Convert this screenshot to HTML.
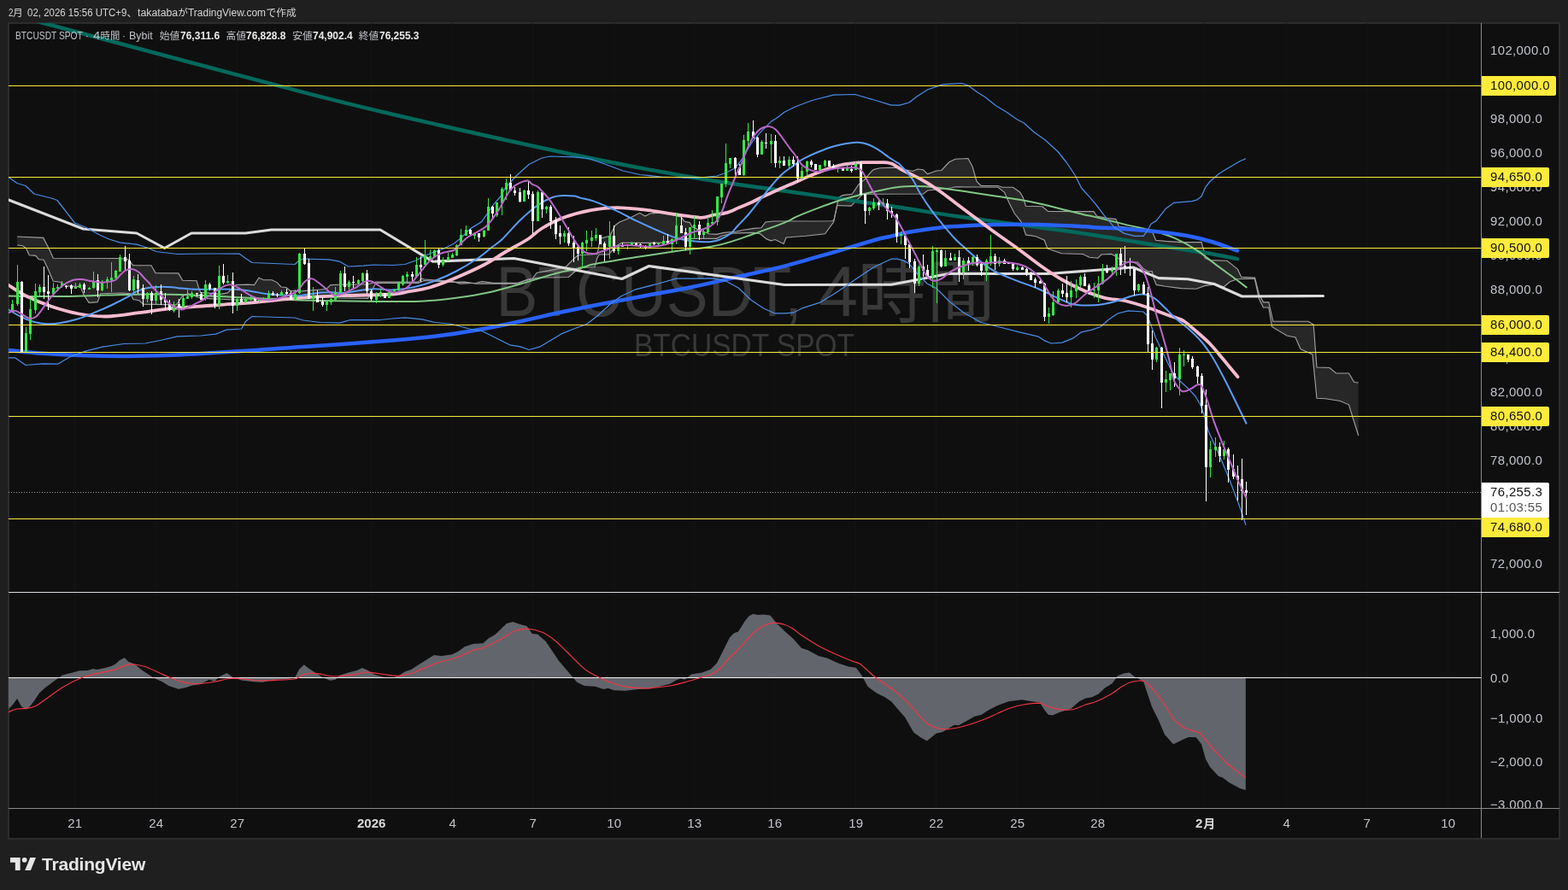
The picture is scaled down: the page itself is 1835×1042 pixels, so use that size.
<!DOCTYPE html>
<html lang="ja"><head><meta charset="utf-8"><title>BTCUSDT SPOT 4h - TradingView</title>
<style>
html,body{margin:0;padding:0;background:#1f1f1f;}
body{width:1835px;height:1042px;position:relative;overflow:hidden;font-family:"Liberation Sans",sans-serif;}
.box{position:absolute;left:9px;top:26px;width:1813px;height:953px;background:#0f0f0f;border:2px solid #2d2d2d;}
.chart{position:absolute;left:0;top:0;will-change:transform;}
.ov{position:absolute;left:0;top:0;width:1835px;height:1042px;will-change:transform;}
.hdr,.lgd{position:absolute;left:0;top:0;}
.sg{position:absolute;display:block;line-height:18px;height:18px;white-space:nowrap;transform-origin:0 50%;overflow:visible;}
.cj{font-family:"Liberation Sans","Noto Sans CJK JP",sans-serif;}
.lg{position:absolute;left:18px;top:34px;font-size:12px;line-height:16px;color:#c4c4c4;white-space:nowrap;}
.lg b{color:#e8e8e8;font-weight:700;}
.lg span{margin-left:8px;}
.pl{position:absolute;left:1744px;height:16px;margin-top:-8px;line-height:16px;font-size:15px;color:#c1c4cc;white-space:nowrap;letter-spacing:0.35px;}
.clip2{position:absolute;left:1734px;top:694px;width:91px;height:252px;overflow:hidden;}
.tag{position:absolute;left:1734px;height:23px;background:#ffeb3b;border-radius:0 2px 2px 0;}
.tag span{position:absolute;left:10px;top:2.8px;line-height:16px;font-size:15px;color:#111;letter-spacing:0.35px;white-space:nowrap;}
.ptag{position:absolute;left:1734px;width:79px;height:41px;background:#ffffff;border-radius:0 2px 0 0;}
.ptag span{position:absolute;left:10px;line-height:16px;font-size:15px;letter-spacing:0.35px;white-space:nowrap;}
.ptag .pv{top:2.6px;color:#111;}
.ptag .pt{top:21.4px;color:#555;}
.tl{position:absolute;top:954.5px;width:60px;text-align:center;font-size:15px;line-height:18px;color:#c1c4cc;white-space:nowrap;}
.tl.b{font-weight:700;color:#d8d8d8;}
.logo{position:absolute;left:12px;top:1003.6px;}
.brand{position:absolute;left:49px;top:999px;font-size:21px;line-height:26px;font-weight:700;color:#e6e6e6;letter-spacing:-0.2px;white-space:nowrap;}
</style></head>
<body>
<div class="box"></div>
<svg class="chart" width="1835" height="1042" viewBox="0 0 1835 1042">
<defs><clipPath id="cm"><rect x="10" y="27" width="1723" height="666"/></clipPath><clipPath id="cs"><rect x="10" y="694" width="1723" height="252"/></clipPath></defs>
<g shape-rendering="crispEdges" stroke="#131313" stroke-width="1">
<line x1="87.5" y1="27" x2="87.5" y2="946"/>
<line x1="182.5" y1="27" x2="182.5" y2="946"/>
<line x1="277.5" y1="27" x2="277.5" y2="946"/>
<line x1="434.5" y1="27" x2="434.5" y2="946"/>
<line x1="529.5" y1="27" x2="529.5" y2="946"/>
<line x1="623.5" y1="27" x2="623.5" y2="946"/>
<line x1="718.5" y1="27" x2="718.5" y2="946"/>
<line x1="812.5" y1="27" x2="812.5" y2="946"/>
<line x1="906.5" y1="27" x2="906.5" y2="946"/>
<line x1="1001.5" y1="27" x2="1001.5" y2="946"/>
<line x1="1095.5" y1="27" x2="1095.5" y2="946"/>
<line x1="1190.5" y1="27" x2="1190.5" y2="946"/>
<line x1="1284.5" y1="27" x2="1284.5" y2="946"/>
<line x1="1409.5" y1="27" x2="1409.5" y2="946"/>
<line x1="1505.5" y1="27" x2="1505.5" y2="946"/>
<line x1="1599.5" y1="27" x2="1599.5" y2="946"/>
<line x1="1694.5" y1="27" x2="1694.5" y2="946"/>
</g>
<g clip-path="url(#cm)">
<g fill="#383838" font-family="Liberation Sans, sans-serif">
<text x="580.5" y="370" font-size="84.3" textLength="358" lengthAdjust="spacingAndGlyphs">BTCUSDT,</text>
<text x="958" y="370" font-size="84.3" textLength="46" lengthAdjust="spacingAndGlyphs">4</text>
<text x="1003.5" y="370.5" font-size="80" font-family="&quot;Liberation Sans&quot;, &quot;Noto Sans CJK JP&quot;, sans-serif" fill="#383838">時</text>
<text x="1084.5" y="370.1" font-size="80" font-family="&quot;Liberation Sans&quot;, &quot;Noto Sans CJK JP&quot;, sans-serif" fill="#383838">間</text>
<text x="742" y="417.3" font-size="36.3" textLength="258" lengthAdjust="spacingAndGlyphs">BTCUSDT SPOT</text>
</g>
<path d="M20 277 L50.7 278.4 L57.9 292.5 L62.3 302.2 L140.3 302.5 L150.3 303.7 L155.5 310.6 L177 310.8 L182 319.6 L208.8 319.9 L213.7 328.2 L230.1 328.7 L232.4 336.5 L234.8 342.4 L258.4 344.3 L266.2 342.9 L271.1 338.5 L276 333.6 L289.8 333.1 L297.6 333.6 L303 325.2 L308.4 327.7 L318.2 327.7 L324.1 330.6 L329 336 L334.9 336.5 L339.8 340.4 L352.6 340.9 L382 338.5 L386.9 333.6 L405 333 L430 333 L436.4 331 L439.8 330.1 L489.6 330.1 L493 326.2 L496.4 327 L530.2 329.6 L538.6 332.1 L557.2 331.3 L564 329.6 L577.5 331.3 L606.2 331.3 L618 327 L623.1 326.2 L628.1 319.4 L641.7 316.9 L661.9 312.7 L672.1 302.5 L676.5 298.8 L699 297.5 L702.5 279.3 L713.7 276.2 L720 263.7 L725 260 L737.4 255 L748.7 249.3 L754.9 253.1 L761.1 250 L775 249 L797.3 254.3 L801.1 259.3 L807.3 260.6 L809.8 265.6 L819.8 269.9 L829.8 273.7 L838.5 274.3 L847.2 272.4 L861 271.2 L869.7 269.3 L882.2 267.4 L890.9 266.8 L895.9 260 L904.7 259 L973 258.8 L976 257.9 L979.7 239.8 L981 231.7 L986 228.6 L997.2 227.3 L1004.7 216.1 L1012.2 209.9 L1018.4 202.4 L1022.2 198.6 L1029.7 196.8 L1048 196.2 L1068 200.5 L1074 198 L1080.5 198.8 L1085.5 203.8 L1095.5 200 L1101.8 199.5 L1110.5 190 L1118 186.2 L1133 185.5 L1138 195 L1143 212.5 L1148 217.5 L1168 217.5 L1173 219.2 L1185.5 219.2 L1193.5 225 L1197.3 231.2 L1200.4 241.2 L1219.7 241.8 L1226.6 247.5 L1280 247.6 L1283.6 253 L1295.6 255.4 L1305.8 256.6 L1309.4 265 L1347.2 269.8 L1349 272.2 L1352.6 281.2 L1364 282.4 L1382 283.6 L1406 283.6 L1409 293.8 L1410.2 302.2 L1415.6 304.6 L1436 305.2 L1441.3 309.4 L1448.5 315.4 L1452.7 324.4 L1468.5 325 L1473.5 345 L1478.5 353.8 L1484.8 353.8 L1489.8 376.2 L1531 376.2 L1537.2 380 L1541 430 L1556 430.5 L1563.5 437 L1578.5 437 L1584.8 447.5 L1589.8 448 L1589.8 510 L1583.5 490 L1578.5 473.8 L1568.5 469.5 L1551 466.8 L1541 466.2 L1536 415 L1522.2 408.8 L1516 395 L1506 393 L1488.5 382.5 L1484.8 360 L1478.5 360 L1473.5 350 L1468.3 326.2 L1447.9 326.8 L1439.5 329.8 L1432.3 335.8 L1421.6 333 L1409.6 334.6 L1400 338.2 L1382 337.6 L1364 335.2 L1353.2 333.4 L1350.2 326.2 L1348.4 317.8 L1343.6 317.8 L1337.6 314.2 L1331.6 307 L1314.8 307 L1305.2 299.8 L1300.4 297.4 L1289 298 L1284.8 302.2 L1274.9 301.2 L1267.4 297.5 L1242.2 296.8 L1226 291.1 L1222.2 281.2 L1212.2 276.8 L1200.4 274.9 L1197.3 264.9 L1194.8 259.3 L1187.3 250 L1181 237.5 L1175.4 225 L1168 219.2 L1118 218.8 L1113 220 L1085.5 223 L1080.5 227 L1009.7 227.3 L1004.7 232.3 L996 241.1 L979.7 240.5 L975.5 260 L965.5 273.8 L943 276.2 L920 278 L917.1 285.5 L907.2 280.5 L902.2 281.8 L897.2 279.9 L889.7 273.7 L882.2 272.4 L857.2 273.1 L844.8 276.2 L838.5 279.3 L811.1 279.3 L794.8 279.9 L782.4 282.4 L774.9 284.3 L727.4 284.3 L720 288.7 L712.5 298 L701.2 298 L698.7 302.4 L696 312.7 L682.2 313.5 L672.1 318.6 L665.3 324.5 L628.1 325.3 L614.6 328.7 L606.2 332.1 L557.2 332.1 L543.7 330.1 L530.2 330.4 L496.4 328.5 L489.6 331.5 L439.8 331.5 L436.4 338 L430.5 349.3 L395 349 L382 346 L360 347 L339.8 349.3 L313.3 350.2 L280 351.2 L258.4 350.2 L234.8 349.3 L220.2 343.7 L213.9 346.2 L206.4 356.8 L167.7 356.1 L162.8 351.8 L155.9 350.5 L152.8 343.7 L144 343 L117.8 343.7 L114.1 353.6 L104.1 354.3 L97.9 344.9 L94.1 335.5 L77.8 334.9 L70.4 330.2 L62.3 329.3 L55.4 313.1 L51.1 304.3 L45.4 303.7 L41.7 299.4 L34.2 298.7 L30.5 290.6 L26.7 287.7 L20 287Z" fill="#ffffff" fill-opacity="0.10" stroke="none"/>
<path d="M20 277 L50.7 278.4 L57.9 292.5 L62.3 302.2 L140.3 302.5 L150.3 303.7 L155.5 310.6 L177 310.8 L182 319.6 L208.8 319.9 L213.7 328.2 L230.1 328.7 L232.4 336.5 L234.8 342.4 L258.4 344.3 L266.2 342.9 L271.1 338.5 L276 333.6 L289.8 333.1 L297.6 333.6 L303 325.2 L308.4 327.7 L318.2 327.7 L324.1 330.6 L329 336 L334.9 336.5 L339.8 340.4 L352.6 340.9 L382 338.5 L386.9 333.6 L405 333 L430 333 L436.4 331 L439.8 330.1 L489.6 330.1 L493 326.2 L496.4 327 L530.2 329.6 L538.6 332.1 L557.2 331.3 L564 329.6 L577.5 331.3 L606.2 331.3 L618 327 L623.1 326.2 L628.1 319.4 L641.7 316.9 L661.9 312.7 L672.1 302.5 L676.5 298.8 L699 297.5 L702.5 279.3 L713.7 276.2 L720 263.7 L725 260 L737.4 255 L748.7 249.3 L754.9 253.1 L761.1 250 L775 249 L797.3 254.3 L801.1 259.3 L807.3 260.6 L809.8 265.6 L819.8 269.9 L829.8 273.7 L838.5 274.3 L847.2 272.4 L861 271.2 L869.7 269.3 L882.2 267.4 L890.9 266.8 L895.9 260 L904.7 259 L973 258.8 L976 257.9 L979.7 239.8 L981 231.7 L986 228.6 L997.2 227.3 L1004.7 216.1 L1012.2 209.9 L1018.4 202.4 L1022.2 198.6 L1029.7 196.8 L1048 196.2 L1068 200.5 L1074 198 L1080.5 198.8 L1085.5 203.8 L1095.5 200 L1101.8 199.5 L1110.5 190 L1118 186.2 L1133 185.5 L1138 195 L1143 212.5 L1148 217.5 L1168 217.5 L1173 219.2 L1185.5 219.2 L1193.5 225 L1197.3 231.2 L1200.4 241.2 L1219.7 241.8 L1226.6 247.5 L1280 247.6 L1283.6 253 L1295.6 255.4 L1305.8 256.6 L1309.4 265 L1347.2 269.8 L1349 272.2 L1352.6 281.2 L1364 282.4 L1382 283.6 L1406 283.6 L1409 293.8 L1410.2 302.2 L1415.6 304.6 L1436 305.2 L1441.3 309.4 L1448.5 315.4 L1452.7 324.4 L1468.5 325 L1473.5 345 L1478.5 353.8 L1484.8 353.8 L1489.8 376.2 L1531 376.2 L1537.2 380 L1541 430 L1556 430.5 L1563.5 437 L1578.5 437 L1584.8 447.5 L1589.8 448" fill="none" stroke="#a0a0a0" stroke-width="1.15"/>
<path d="M20 287 L26.7 287.7 L30.5 290.6 L34.2 298.7 L41.7 299.4 L45.4 303.7 L51.1 304.3 L55.4 313.1 L62.3 329.3 L70.4 330.2 L77.8 334.9 L94.1 335.5 L97.9 344.9 L104.1 354.3 L114.1 353.6 L117.8 343.7 L144 343 L152.8 343.7 L155.9 350.5 L162.8 351.8 L167.7 356.1 L206.4 356.8 L213.9 346.2 L220.2 343.7 L234.8 349.3 L258.4 350.2 L280 351.2 L313.3 350.2 L339.8 349.3 L360 347 L382 346 L395 349 L430.5 349.3 L436.4 338 L439.8 331.5 L489.6 331.5 L496.4 328.5 L530.2 330.4 L543.7 330.1 L557.2 332.1 L606.2 332.1 L614.6 328.7 L628.1 325.3 L665.3 324.5 L672.1 318.6 L682.2 313.5 L696 312.7 L698.7 302.4 L701.2 298 L712.5 298 L720 288.7 L727.4 284.3 L774.9 284.3 L782.4 282.4 L794.8 279.9 L811.1 279.3 L838.5 279.3 L844.8 276.2 L857.2 273.1 L882.2 272.4 L889.7 273.7 L897.2 279.9 L902.2 281.8 L907.2 280.5 L917.1 285.5 L920 278 L943 276.2 L965.5 273.8 L975.5 260 L979.7 240.5 L996 241.1 L1004.7 232.3 L1009.7 227.3 L1080.5 227 L1085.5 223 L1113 220 L1118 218.8 L1168 219.2 L1175.4 225 L1181 237.5 L1187.3 250 L1194.8 259.3 L1197.3 264.9 L1200.4 274.9 L1212.2 276.8 L1222.2 281.2 L1226 291.1 L1242.2 296.8 L1267.4 297.5 L1274.9 301.2 L1284.8 302.2 L1289 298 L1300.4 297.4 L1305.2 299.8 L1314.8 307 L1331.6 307 L1337.6 314.2 L1343.6 317.8 L1348.4 317.8 L1350.2 326.2 L1353.2 333.4 L1364 335.2 L1382 337.6 L1400 338.2 L1409.6 334.6 L1421.6 333 L1432.3 335.8 L1439.5 329.8 L1447.9 326.8 L1468.3 326.2 L1473.5 350 L1478.5 360 L1484.8 360 L1488.5 382.5 L1506 393 L1516 395 L1522.2 408.8 L1536 415 L1541 466.2 L1551 466.8 L1568.5 469.5 L1578.5 473.8 L1583.5 490 L1589.8 510" fill="none" stroke="#a0a0a0" stroke-width="1.15"/>
<path d="M10 16.2 C16.8 18 -1.5 13 51 27 C103.5 41 257 82.5 325 100.2 C393 118 399.2 119.8 459 133.8 C518.8 147.7 623.8 171.2 684 183.8 C744.2 196.3 781 202.7 820 209.3 C859 215.9 879.8 218.1 918 223.6 C956.2 229.1 1015.7 237.4 1049 242.3 C1082.3 247.2 1089.8 249 1118 253 C1146.2 257 1191 262.8 1218 266.5 C1245 270.2 1261.7 272.4 1280 275.2 C1298.3 277.9 1312 280.4 1328 283 C1344 285.6 1362 288.6 1376 290.8 C1390 293 1400 294.1 1412 296.2 C1424 298.2 1442 302 1448 303.1" fill="none" stroke="#00695c" stroke-width="4.5" stroke-linecap="round"/>
<path d="M10 346.5 C20.8 346.6 55.8 347.2 75 347 C94.2 346.8 108.3 345.9 125 345.5 C141.7 345.1 158.3 344.5 175 344.5 C191.7 344.5 208.3 344.9 225 345.5 C241.7 346.1 258.3 347.2 275 348 C291.7 348.8 308.3 349.8 325 350.5 C341.7 351.2 358.3 351.6 375 352 C391.7 352.4 411 352.6 425 352.8 C439 352.9 447.1 353 459 353 C470.9 353 484 353.2 496.5 352.5 C509 351.8 521.5 350.4 534 348.8 C546.5 347.1 559 345.2 571.5 342.5 C584 339.8 596.5 336 609 332.5 C621.5 329 634 324.6 646.5 321.2 C659 317.9 675.9 314.5 684 312.5 C692.1 310.5 684.8 311.1 695 309.2 C705.2 307.3 728.4 303.7 745 301.1 C761.6 298.5 780.2 295.7 794.8 293.6 C809.3 291.5 821.9 290.6 832.3 288.7 C842.7 286.8 848.9 284.9 857.2 282.4 C865.5 279.9 873.9 276.6 882.2 273.7 C890.5 270.8 900.2 267.5 907.2 264.9 C914.2 262.3 919.8 260 924 258.1 C928.2 256.2 926.8 256 932.3 253.6 C937.8 251.2 949 246.7 957.3 243.6 C965.6 240.5 973.9 237.4 982.2 234.8 C990.5 232.2 998.9 230.1 1007.2 228 C1015.5 225.9 1024.6 223.9 1032.2 222.4 C1039.8 220.9 1046.2 219.5 1053 218.8 C1059.8 218 1066.3 217.9 1073 218 C1079.7 218.1 1085.5 218.5 1093 219.2 C1100.5 220 1109.7 221.3 1118 222.5 C1126.3 223.7 1134.7 225 1143 226.2 C1151.3 227.5 1159.7 228.8 1168 230 C1176.3 231.2 1184.7 232.3 1193 233.8 C1201.3 235.2 1209.7 236.9 1218 238.8 C1226.3 240.6 1234.7 242.9 1243 245 C1251.3 247.1 1261.8 249.8 1268 251.2 C1274.2 252.7 1272 251.7 1280 253.6 C1288 255.5 1304 259.7 1316 262.6 C1328 265.5 1342 268.2 1352 271 C1362 273.8 1368 275.8 1376 279.4 C1384 283 1392 287.4 1400 292.6 C1408 297.8 1417 305.4 1424 310.6 C1431 315.8 1436.2 319.5 1442 323.8 C1447.8 328.1 1455.9 334.3 1458.7 336.4" fill="none" stroke="#81c784" stroke-width="2" stroke-linecap="round"/>
<path d="M10 410 C16.7 410.6 35 412.7 50 413.8 C65 414.8 83.3 415.7 100 416.2 C116.7 416.8 133.3 417.1 150 417 C166.7 416.9 183.3 416.4 200 415.8 C216.7 415.1 233.3 414 250 413 C266.7 412 283.3 411.1 300 410 C316.7 408.9 333.3 407.4 350 406.2 C366.7 405.1 381.8 404.3 400 403 C418.2 401.7 440.8 400 459 398.5 C477.2 397 492.3 395.8 509 393.8 C525.7 391.7 542.3 389.2 559 386.2 C575.7 383.3 592.3 379.8 609 376.2 C625.7 372.7 642.3 368.5 659 365 C675.7 361.5 692.3 358.2 709 355 C725.7 351.8 742.3 348.6 759 345.5 C775.7 342.4 792.3 339.7 809 336.2 C825.7 332.8 840.8 329.1 859 325 C877.2 320.9 897.8 316.8 918 311.6 C938.2 306.4 962.6 298.9 980.5 293.8 C998.4 288.6 1015.6 283.3 1025.5 280.5 C1035.4 277.7 1032.9 278.8 1040 277.2 C1047.1 275.6 1057.7 272.8 1068 271 C1078.3 269.2 1093.7 267.2 1102 266.2 C1110.3 265.2 1107.5 265.5 1118 265 C1128.5 264.5 1148.8 263.4 1165 263.1 C1181.2 262.8 1197.7 262.6 1215 263 C1232.3 263.4 1258.2 264.7 1269 265.2 C1279.8 265.7 1272.2 265.7 1280 266.2 C1287.8 266.7 1304 267.2 1316 268 C1328 268.8 1340 269.7 1352 271 C1364 272.3 1377 273.8 1388 275.8 C1399 277.8 1408 280.1 1418 283 C1428 285.9 1443 291.8 1448 293.5" fill="none" stroke="#2962ff" stroke-width="4.5" stroke-linecap="round"/>
<path d="M10 234 L97.5 268 L160 273 L192.5 290.5 L224 273 L287.5 273 L317.5 269 L445 269 L506.5 306.2 L601.5 302.5 L727.8 326.5 L759.5 311.5 L918 333.5 L1043 333.2 L1110 320.5 L1227 320.5 L1326 313 L1356 325.6 L1390 326.8 L1421 332.5 L1453.5 347 L1548.5 346.5" fill="none" stroke="#dcdcdc" stroke-width="3.1" stroke-linecap="round" stroke-linejoin="round"/>
<path d="M10 333.8 C13.3 335.8 21.7 342.1 30 346.2 C38.3 350.4 49.6 355.2 60 358.8 C70.4 362.3 81.7 365.5 92.5 367.5 C103.3 369.5 113.3 370.7 125 370.5 C136.7 370.3 150 367.8 162.5 366.2 C175 364.7 185.4 362.7 200 361.2 C214.6 359.8 233.3 358.8 250 357.5 C266.7 356.2 283.3 355.2 300 353.8 C316.7 352.3 333.3 350 350 348.8 C366.7 347.5 381.8 347 400 346.2 C418.2 345.5 445.8 345.3 459 344.5 C472.2 343.7 471.5 342.6 479 341.2 C486.5 339.9 494.8 339 504 336.2 C513.2 333.5 523.6 329.4 534 325 C544.4 320.6 556.9 315 566.5 310 C576.1 305 583 300 591.5 295 C600 290 610.7 284.6 617.8 280 C624.8 275.4 627.1 271.7 634 267.5 C640.9 263.3 649.4 258.5 659 255 C668.6 251.5 681.1 248.2 691.5 246.2 C701.9 244.3 710.2 243.2 721.5 243.2 C732.8 243.2 747.3 244.9 759 246.2 C770.7 247.6 781.3 249.8 791.5 251.2 C801.7 252.7 812.8 254.7 820 254.8 C827.2 254.9 830 252.6 835 251.7 C840 250.8 845 250.6 850 249.2 C855 247.8 859.9 245.1 864.9 243 C869.9 240.9 874.9 239 879.9 236.7 C884.9 234.4 889.9 231.6 894.9 229.2 C899.9 226.8 904.9 224.6 909.9 222.4 C914.9 220.2 919.8 218.3 924.8 216.1 C929.8 213.9 934.8 211.5 939.8 209.3 C944.8 207.1 949.8 205 954.8 203 C959.8 201 964.8 199.1 969.8 197.4 C974.8 195.7 979.7 194.1 984.7 193 C989.7 191.9 996 191.5 999.7 191 C1003.5 190.5 1003.8 190.3 1007.2 190.2 C1010.6 190 1015.9 190.1 1020 190.1 C1024.1 190.1 1028.9 190.1 1032 190.1 C1035.1 190.1 1036.4 190 1038.4 190.3 C1040.4 190.6 1042.1 191 1044 191.8 C1045.9 192.7 1047.7 194 1050 195.4 C1052.3 196.8 1053.3 197.6 1058 200 C1062.7 202.4 1071.3 206.2 1078 210 C1084.7 213.8 1091.3 217.9 1098 222.5 C1104.7 227.1 1111.3 232.5 1118 237.5 C1124.7 242.5 1131.3 247.5 1138 252.5 C1144.7 257.5 1151.8 262.9 1158 267.5 C1164.2 272.1 1169.7 275.8 1175.5 280 C1181.3 284.2 1185.9 287.3 1193 292.5 C1200.1 297.7 1209.7 305.4 1218 311.2 C1226.3 317.1 1234.7 322.7 1243 327.5 C1251.3 332.3 1259.7 336.5 1268 340 C1276.3 343.5 1284.7 346.7 1293 348.8 C1301.3 350.8 1309.7 350.6 1318 352.5 C1326.3 354.4 1335.5 357.5 1343 360 C1350.5 362.5 1357.3 365.4 1363 367.5 C1368.7 369.6 1373.2 370.8 1377 372.3 C1380.8 373.8 1382 373.5 1386 376.2 C1390 379 1396 384.4 1401 388.8 C1406 393.1 1411 397.3 1416 402.5 C1421 407.7 1425.6 413.5 1431 420 C1436.4 426.5 1445.6 437.7 1448.5 441.2" fill="none" stroke="#f8bbd0" stroke-width="3.8" stroke-linecap="round"/>
<path d="M10 207.5 L20 214.5 L30 217.5 L40 227 L60 232 L67 234.5 L87.5 261 L100 266 L117.5 275.5 L127.5 280 L140 283.8 L160 286.2 L172.5 290 L182.5 294.5 L207.5 297.5 L240 297 L280 297 L287.5 302.5 L295 307.5 L345 309.5 L350 305 L355 303 L385 303.8 L397.5 306.2 L407.5 312 L425 311.2 L437.5 310 L459 310.5 L474 309.5 L486.5 305 L501.5 297.5 L519 291.2 L531.5 285 L539 279 L550.9 267.4 L563.3 259.9 L569.6 251.2 L578.3 238.7 L585.8 230 L591.5 220 L604 206 L619 192.5 L634 185 L644 183 L671.5 183.8 L689 185.5 L709 192.5 L729 200 L749 204.5 L774 207 L799 208 L819 208 L839 206 L849 202.5 L859 197.5 L864.3 191.9 L869.8 184.2 L875.2 174.4 L880.7 165.6 L886.2 159.1 L891.6 153.1 L897.1 147.6 L902.6 142.1 L908.1 138.8 L913 135.3 L918 131.2 L930.5 125 L950.5 117.5 L975.5 111.2 L1000.5 110.5 L1023 117 L1043 123.2 L1053 123.2 L1064 120 L1073 113 L1085.5 105 L1103 98.8 L1115.5 98.2 L1125.5 97.5 L1133 100 L1143 107.5 L1153 113.8 L1165.5 123.8 L1178 131.2 L1190.5 140 L1198 143.8 L1210.5 155 L1223 163.8 L1238 177.5 L1248 190 L1258 205 L1265.5 220 L1275.5 231.2 L1283 240 L1292 251.8 L1304 266.2 L1316 273.4 L1328 276.4 L1338.2 276.4 L1343.6 268.6 L1347.2 262 L1353.2 258.4 L1364 244.6 L1373.6 237.4 L1395.2 235.6 L1401 233.8 L1406 230 L1411 218.8 L1416 212.5 L1426 203.8 L1436 197.5 L1451 188.8 L1458 185.8" fill="none" stroke="#4a8de8" stroke-width="1.25" stroke-linejoin="round"/>
<path d="M10 418.8 L17.5 418.8 L30 427.5 L50 425.8 L67.5 426.2 L82.5 417.5 L100 411.2 L120 406.2 L145 402.5 L170 402 L190 398 L207.5 393.8 L235 393 L252.5 391.2 L265 386.2 L282.5 385 L287.5 376.2 L295 370.5 L345 372 L355 375 L375 377.5 L397.5 378.2 L410 374.5 L445 374.5 L459 373 L474 371.8 L494 373.8 L509 377.5 L529 379.5 L549 385 L564 387.5 L579 395 L596.5 403.8 L609 405.8 L619 409.5 L631.5 406.2 L644 398.8 L656.5 391.2 L671.5 385 L686.5 379.5 L699 370 L714 356.2 L726.5 347 L744 338.8 L769 332.5 L791.5 326.2 L814 326.2 L834 325.8 L849 328.8 L864 337 L879 351.2 L894 361.2 L906.5 366.8 L918 366.8 L928 366.2 L938 361.2 L960.5 353.8 L980.5 341.2 L1000.5 327.5 L1023 312.5 L1043 303.2 L1050 303.2 L1056.5 304.9 L1063.1 308.1 L1069 314.7 L1074.9 322.5 L1080.7 327.7 L1085.3 332.3 L1090.5 334.9 L1095.8 337.6 L1101 342.8 L1106.2 348 L1110.5 352.5 L1128 366.2 L1148 377.5 L1168 382.5 L1193 388.8 L1215.5 394.2 L1223 399.2 L1230.5 402 L1243 401.2 L1255.5 396.2 L1265.5 388.8 L1278 386.2 L1288 382.5 L1298 373.8 L1308 367 L1320.5 363.8 L1338 365 L1343 370 L1352.3 395 L1362.2 415.7 L1369.9 431.8 L1376 441 L1383.7 448.7 L1391.4 455.6 L1399 464 L1404.4 473.3 L1408.6 484.1 L1414.4 505.3 L1425.9 530.2 L1439.3 562.8 L1450.9 593.6 L1458 614.7" fill="none" stroke="#4a8de8" stroke-width="1.25" stroke-linejoin="round"/>
<path d="M10 362.5 C12.5 364 20 368.8 25 371.2 C30 373.7 35 375.7 40 377 C45 378.3 50 379 55 379.2 C60 379.5 64.2 379.2 70 378.2 C75.8 377.3 83.3 375.8 90 373.8 C96.7 371.8 103.3 369 110 366.2 C116.7 363.5 123.2 360.7 130 357.5 C136.8 354.3 146.2 349.4 150.8 346.9 C155.4 344.4 154.5 344 157.4 342.5 C160.3 341 164.7 339.2 168.3 338.1 C171.9 337.1 175.5 336.6 179.2 336.2 C182.8 335.8 186.5 335.7 190.2 335.7 C193.8 335.7 197.5 335.9 201.1 336.2 C204.7 336.5 208.3 337.2 212 337.6 C215.7 338 220 338.2 223 338.4 C226 338.6 221.3 338.6 230 338.7 C238.7 338.8 264.2 338.3 275 338.8 C285.8 339.2 288.3 340.3 295 341.2 C301.7 342.2 308.3 343.7 315 344.5 C321.7 345.3 329.2 345.5 335 345.8 C340.8 346.1 345.3 346.4 350 346.2 C354.7 345.9 358.7 344.9 363 344.3 C367.3 343.7 371.7 342.9 376 342.6 C380.3 342.3 384.7 342.2 389 342.3 C393.3 342.4 397.6 343.2 402 343 C406.4 342.8 411 341.7 415.4 341 C419.8 340.3 425.2 339.4 428.5 339 C431.8 338.6 431.8 338.4 435 338.4 C438.2 338.3 444 338.5 448 338.7 C452 338.9 453 339.9 459 339.5 C465 339.1 475.7 338 484 336.2 C492.3 334.5 500.7 331.9 509 328.8 C517.3 325.6 525.7 321.9 534 317.5 C542.3 313.1 551.9 307.3 559 302.5 C566.1 297.7 571.7 292.5 576.5 288.8 C581.3 285 582.3 285.2 587.8 280 C593.2 274.8 602.1 264.1 609 257.5 C615.9 250.9 622.8 244.9 629 240.5 C635.2 236.1 641.3 232.9 646.5 231 C651.7 229.1 655.8 229.2 660 229 C664.2 228.8 668.8 229.2 672 229.6 C675.2 230 675.2 230.6 679 231.6 C682.8 232.6 688.2 233.2 695 235.6 C701.8 238 711.7 242.3 720 246.2 C728.3 250 736.7 254.7 745 258.7 C753.3 262.7 762.5 266.8 770 270 C777.5 273.2 783.6 276 789.8 278 C796 280 802.3 281 807.3 281.8 C812.3 282.6 815.6 282.8 819.8 283 C824 283.2 828.5 283.4 832.3 283 C836 282.6 838.6 282.1 842.3 280.5 C846 278.9 851.2 276.3 854.7 273.7 C858.2 271.1 859.5 268.6 863 264.8 C866.5 261 871.5 256.2 876 251 C880.5 245.8 885.6 239.1 890 233.6 C894.4 228.1 898.3 222.9 902.4 218 C906.5 213.1 910.6 208.2 914.8 204.3 C918.9 200.5 923.1 197.9 927.3 194.9 C931.5 191.9 934.8 189 939.8 186.2 C944.8 183.4 951.3 180.5 957.3 178 C963.3 175.5 969.8 173 976 171.2 C982.2 169.4 989.9 168.1 994.7 167.4 C999.5 166.7 1001.4 166.6 1004.7 166.8 C1008 167 1011 167.3 1014.7 168.7 C1018.5 170 1023.1 172.4 1027.2 174.9 C1031.3 177.4 1036 181.2 1039.6 183.7 C1043.2 186.2 1046.8 188.4 1049 189.9 C1051.2 191.4 1049.8 189.2 1053 192.5 C1056.2 195.8 1064.2 204.6 1068 210 C1071.8 215.4 1072.3 219 1076 225 C1079.7 231 1085.2 239.5 1090 246.2 C1094.8 252.9 1100.3 259.4 1105 265 C1109.7 270.6 1114.3 276.1 1118 280 C1121.7 283.9 1122.7 284.5 1127.4 288.6 C1132.1 292.8 1139.8 300 1146 304.9 C1152.2 309.8 1157.5 314.1 1164.8 318 C1172.1 321.9 1181.5 325.3 1189.8 328.6 C1198.1 331.9 1206.4 334.5 1214.7 338 C1223 341.5 1232.9 346.8 1239.7 349.8 C1246.5 352.8 1250 355 1255.5 356.2 C1261 357.5 1267.2 357.5 1273 357.5 C1278.8 357.5 1284.7 357.2 1290.5 356.2 C1296.3 355.3 1302.2 353.7 1308 352 C1313.8 350.3 1320.5 347.5 1325.5 346.2 C1330.5 345 1333.8 344.1 1338 344.5 C1342.2 344.9 1346.3 346.2 1350.5 348.8 C1354.7 351.3 1358.6 355.8 1363 360 C1367.4 364.2 1372.3 369.6 1377 373.8 C1381.7 377.9 1386.2 380.6 1391 385 C1395.8 389.4 1401.4 394.6 1406 400 C1410.6 405.4 1414.3 410.8 1418.5 417.5 C1422.7 424.2 1426.8 432.1 1431 440 C1435.2 447.9 1438.9 455.7 1443.5 465 C1448.1 474.3 1456 490.6 1458.5 495.7" fill="none" stroke="#5b9cf6" stroke-width="2" stroke-linecap="round"/>
<line x1="10" y1="576.5" x2="1733" y2="576.5" stroke="#9a9a9a" stroke-width="1" stroke-dasharray="1 2" shape-rendering="crispEdges"/>
<g shape-rendering="crispEdges">
<rect x="14" y="351" width="1" height="14" fill="#33e843"/>
<rect x="13" y="356" width="3" height="9" fill="#33e843"/>
<rect x="20" y="310" width="1" height="48" fill="#33e843"/>
<rect x="19" y="330" width="3" height="26" fill="#33e843"/>
<rect x="25" y="329" width="1" height="83" fill="#ffffff"/>
<rect x="24" y="330" width="3" height="82" fill="#ffffff"/>
<rect x="30" y="383" width="1" height="29" fill="#33e843"/>
<rect x="29" y="390" width="3" height="22" fill="#33e843"/>
<rect x="35" y="349" width="1" height="49" fill="#33e843"/>
<rect x="34" y="362" width="3" height="29" fill="#33e843"/>
<rect x="41" y="332" width="1" height="35" fill="#33e843"/>
<rect x="40" y="341" width="3" height="22" fill="#33e843"/>
<rect x="46" y="333" width="1" height="13" fill="#33e843"/>
<rect x="45" y="336" width="3" height="6" fill="#33e843"/>
<rect x="51" y="312" width="1" height="38" fill="#ffffff"/>
<rect x="50" y="336" width="3" height="6" fill="#ffffff"/>
<rect x="56" y="322" width="1" height="41" fill="#ffffff"/>
<rect x="55" y="341" width="3" height="3" fill="#ffffff"/>
<rect x="62" y="331" width="1" height="15" fill="#33e843"/>
<rect x="61" y="337" width="3" height="7" fill="#33e843"/>
<rect x="67" y="333" width="1" height="8" fill="#33e843"/>
<rect x="66" y="336" width="3" height="2" fill="#33e843"/>
<rect x="72" y="329" width="1" height="8" fill="#33e843"/>
<rect x="71" y="332" width="3" height="3" fill="#33e843"/>
<rect x="77" y="334" width="1" height="4" fill="#ffffff"/>
<rect x="76" y="335" width="3" height="1" fill="#ffffff"/>
<rect x="83" y="333" width="1" height="11" fill="#ffffff"/>
<rect x="82" y="334" width="3" height="4" fill="#ffffff"/>
<rect x="88" y="331" width="1" height="7" fill="#33e843"/>
<rect x="87" y="336" width="3" height="2" fill="#33e843"/>
<rect x="93" y="331" width="1" height="6" fill="#33e843"/>
<rect x="92" y="333" width="3" height="4" fill="#33e843"/>
<rect x="98" y="331" width="1" height="12" fill="#ffffff"/>
<rect x="97" y="333" width="3" height="6" fill="#ffffff"/>
<rect x="104" y="336" width="1" height="3" fill="#33e843"/>
<rect x="103" y="337" width="3" height="2" fill="#33e843"/>
<rect x="109" y="318" width="1" height="20" fill="#33e843"/>
<rect x="108" y="330" width="3" height="7" fill="#33e843"/>
<rect x="114" y="321" width="1" height="27" fill="#ffffff"/>
<rect x="113" y="328" width="3" height="12" fill="#ffffff"/>
<rect x="119" y="328" width="1" height="13" fill="#33e843"/>
<rect x="118" y="331" width="3" height="9" fill="#33e843"/>
<rect x="125" y="324" width="1" height="14" fill="#33e843"/>
<rect x="124" y="327" width="3" height="3" fill="#33e843"/>
<rect x="130" y="307" width="1" height="35" fill="#33e843"/>
<rect x="129" y="325" width="3" height="3" fill="#33e843"/>
<rect x="135" y="316" width="1" height="10" fill="#33e843"/>
<rect x="134" y="317" width="3" height="9" fill="#33e843"/>
<rect x="140" y="298" width="1" height="20" fill="#33e843"/>
<rect x="139" y="301" width="3" height="17" fill="#33e843"/>
<rect x="146" y="288" width="1" height="28" fill="#ffffff"/>
<rect x="145" y="301" width="3" height="5" fill="#ffffff"/>
<rect x="151" y="297" width="1" height="44" fill="#ffffff"/>
<rect x="150" y="305" width="3" height="35" fill="#ffffff"/>
<rect x="156" y="323" width="1" height="19" fill="#33e843"/>
<rect x="155" y="327" width="3" height="13" fill="#33e843"/>
<rect x="161" y="321" width="1" height="23" fill="#ffffff"/>
<rect x="160" y="328" width="3" height="10" fill="#ffffff"/>
<rect x="167" y="333" width="1" height="26" fill="#ffffff"/>
<rect x="166" y="337" width="3" height="13" fill="#ffffff"/>
<rect x="172" y="342" width="1" height="12" fill="#33e843"/>
<rect x="171" y="343" width="3" height="7" fill="#33e843"/>
<rect x="177" y="341" width="1" height="27" fill="#ffffff"/>
<rect x="176" y="343" width="3" height="9" fill="#ffffff"/>
<rect x="182" y="334" width="1" height="23" fill="#33e843"/>
<rect x="181" y="343" width="3" height="9" fill="#33e843"/>
<rect x="188" y="333" width="1" height="24" fill="#ffffff"/>
<rect x="187" y="341" width="3" height="10" fill="#ffffff"/>
<rect x="193" y="343" width="1" height="20" fill="#ffffff"/>
<rect x="192" y="351" width="3" height="3" fill="#ffffff"/>
<rect x="198" y="351" width="1" height="13" fill="#ffffff"/>
<rect x="197" y="356" width="3" height="7" fill="#ffffff"/>
<rect x="203" y="353" width="1" height="13" fill="#33e843"/>
<rect x="202" y="357" width="3" height="7" fill="#33e843"/>
<rect x="209" y="350" width="1" height="22" fill="#ffffff"/>
<rect x="208" y="356" width="3" height="4" fill="#ffffff"/>
<rect x="214" y="346" width="1" height="15" fill="#33e843"/>
<rect x="213" y="349" width="3" height="11" fill="#33e843"/>
<rect x="219" y="339" width="1" height="11" fill="#33e843"/>
<rect x="218" y="347" width="3" height="3" fill="#33e843"/>
<rect x="224" y="341" width="1" height="9" fill="#33e843"/>
<rect x="223" y="343" width="3" height="5" fill="#33e843"/>
<rect x="230" y="343" width="1" height="4" fill="#ffffff"/>
<rect x="229" y="343" width="3" height="1" fill="#ffffff"/>
<rect x="235" y="342" width="1" height="9" fill="#ffffff"/>
<rect x="234" y="344" width="3" height="7" fill="#ffffff"/>
<rect x="240" y="328" width="1" height="24" fill="#33e843"/>
<rect x="239" y="333" width="3" height="17" fill="#33e843"/>
<rect x="245" y="331" width="1" height="9" fill="#ffffff"/>
<rect x="244" y="333" width="3" height="5" fill="#ffffff"/>
<rect x="251" y="337" width="1" height="24" fill="#ffffff"/>
<rect x="250" y="337" width="3" height="20" fill="#ffffff"/>
<rect x="256" y="311" width="1" height="51" fill="#33e843"/>
<rect x="255" y="323" width="3" height="34" fill="#33e843"/>
<rect x="261" y="309" width="1" height="24" fill="#ffffff"/>
<rect x="260" y="323" width="3" height="8" fill="#ffffff"/>
<rect x="266" y="322" width="1" height="10" fill="#33e843"/>
<rect x="265" y="329" width="3" height="2" fill="#33e843"/>
<rect x="272" y="319" width="1" height="48" fill="#ffffff"/>
<rect x="271" y="329" width="3" height="29" fill="#ffffff"/>
<rect x="277" y="348" width="1" height="16" fill="#33e843"/>
<rect x="276" y="350" width="3" height="8" fill="#33e843"/>
<rect x="282" y="344" width="1" height="10" fill="#ffffff"/>
<rect x="281" y="350" width="3" height="4" fill="#ffffff"/>
<rect x="287" y="349" width="1" height="6" fill="#33e843"/>
<rect x="286" y="350" width="3" height="4" fill="#33e843"/>
<rect x="293" y="347" width="1" height="5" fill="#33e843"/>
<rect x="292" y="349" width="3" height="2" fill="#33e843"/>
<rect x="298" y="349" width="1" height="4" fill="#ffffff"/>
<rect x="297" y="349" width="3" height="3" fill="#ffffff"/>
<rect x="303" y="350" width="1" height="4" fill="#33e843"/>
<rect x="302" y="351" width="3" height="1" fill="#33e843"/>
<rect x="308" y="348" width="1" height="3" fill="#33e843"/>
<rect x="307" y="349" width="3" height="1" fill="#33e843"/>
<rect x="314" y="340" width="1" height="10" fill="#33e843"/>
<rect x="313" y="343" width="3" height="7" fill="#33e843"/>
<rect x="319" y="341" width="1" height="5" fill="#ffffff"/>
<rect x="318" y="343" width="3" height="3" fill="#ffffff"/>
<rect x="324" y="343" width="1" height="5" fill="#ffffff"/>
<rect x="323" y="345" width="3" height="1" fill="#ffffff"/>
<rect x="329" y="340" width="1" height="6" fill="#33e843"/>
<rect x="328" y="342" width="3" height="4" fill="#33e843"/>
<rect x="335" y="338" width="1" height="7" fill="#ffffff"/>
<rect x="334" y="342" width="3" height="2" fill="#ffffff"/>
<rect x="340" y="341" width="1" height="10" fill="#ffffff"/>
<rect x="339" y="343" width="3" height="8" fill="#ffffff"/>
<rect x="345" y="339" width="1" height="12" fill="#33e843"/>
<rect x="344" y="344" width="3" height="7" fill="#33e843"/>
<rect x="350" y="296" width="1" height="48" fill="#33e843"/>
<rect x="349" y="297" width="3" height="46" fill="#33e843"/>
<rect x="356" y="291" width="1" height="19" fill="#ffffff"/>
<rect x="355" y="297" width="3" height="12" fill="#ffffff"/>
<rect x="361" y="303" width="1" height="47" fill="#ffffff"/>
<rect x="360" y="308" width="3" height="42" fill="#ffffff"/>
<rect x="366" y="336" width="1" height="28" fill="#33e843"/>
<rect x="365" y="346" width="3" height="4" fill="#33e843"/>
<rect x="371" y="340" width="1" height="14" fill="#ffffff"/>
<rect x="370" y="346" width="3" height="8" fill="#ffffff"/>
<rect x="377" y="348" width="1" height="11" fill="#ffffff"/>
<rect x="376" y="353" width="3" height="4" fill="#ffffff"/>
<rect x="382" y="352" width="1" height="12" fill="#33e843"/>
<rect x="381" y="353" width="3" height="4" fill="#33e843"/>
<rect x="387" y="348" width="1" height="9" fill="#33e843"/>
<rect x="386" y="350" width="3" height="4" fill="#33e843"/>
<rect x="392" y="336" width="1" height="15" fill="#33e843"/>
<rect x="391" y="342" width="3" height="9" fill="#33e843"/>
<rect x="398" y="317" width="1" height="26" fill="#33e843"/>
<rect x="397" y="320" width="3" height="23" fill="#33e843"/>
<rect x="403" y="312" width="1" height="29" fill="#ffffff"/>
<rect x="402" y="320" width="3" height="16" fill="#ffffff"/>
<rect x="408" y="328" width="1" height="12" fill="#33e843"/>
<rect x="407" y="330" width="3" height="6" fill="#33e843"/>
<rect x="413" y="323" width="1" height="14" fill="#ffffff"/>
<rect x="412" y="330" width="3" height="1" fill="#ffffff"/>
<rect x="419" y="327" width="1" height="6" fill="#33e843"/>
<rect x="418" y="328" width="3" height="4" fill="#33e843"/>
<rect x="424" y="319" width="1" height="11" fill="#33e843"/>
<rect x="423" y="320" width="3" height="9" fill="#33e843"/>
<rect x="429" y="316" width="1" height="28" fill="#ffffff"/>
<rect x="428" y="320" width="3" height="21" fill="#ffffff"/>
<rect x="434" y="339" width="1" height="13" fill="#ffffff"/>
<rect x="433" y="341" width="3" height="9" fill="#ffffff"/>
<rect x="440" y="342" width="1" height="13" fill="#33e843"/>
<rect x="439" y="347" width="3" height="4" fill="#33e843"/>
<rect x="445" y="338" width="1" height="10" fill="#33e843"/>
<rect x="444" y="342" width="3" height="5" fill="#33e843"/>
<rect x="450" y="343" width="1" height="6" fill="#ffffff"/>
<rect x="449" y="343" width="3" height="6" fill="#ffffff"/>
<rect x="455" y="342" width="1" height="7" fill="#33e843"/>
<rect x="454" y="342" width="3" height="7" fill="#33e843"/>
<rect x="461" y="338" width="1" height="6" fill="#33e843"/>
<rect x="460" y="339" width="3" height="2" fill="#33e843"/>
<rect x="466" y="330" width="1" height="11" fill="#33e843"/>
<rect x="465" y="330" width="3" height="10" fill="#33e843"/>
<rect x="471" y="322" width="1" height="13" fill="#33e843"/>
<rect x="470" y="323" width="3" height="10" fill="#33e843"/>
<rect x="476" y="318" width="1" height="14" fill="#33e843"/>
<rect x="475" y="321" width="3" height="3" fill="#33e843"/>
<rect x="482" y="318" width="1" height="11" fill="#ffffff"/>
<rect x="481" y="321" width="3" height="3" fill="#ffffff"/>
<rect x="487" y="301" width="1" height="23" fill="#33e843"/>
<rect x="486" y="310" width="3" height="14" fill="#33e843"/>
<rect x="492" y="300" width="1" height="30" fill="#ffffff"/>
<rect x="491" y="310" width="3" height="3" fill="#ffffff"/>
<rect x="497" y="281" width="1" height="32" fill="#33e843"/>
<rect x="496" y="299" width="3" height="11" fill="#33e843"/>
<rect x="503" y="292" width="1" height="11" fill="#33e843"/>
<rect x="502" y="300" width="3" height="3" fill="#33e843"/>
<rect x="508" y="292" width="1" height="9" fill="#33e843"/>
<rect x="507" y="293" width="3" height="8" fill="#33e843"/>
<rect x="513" y="291" width="1" height="23" fill="#ffffff"/>
<rect x="512" y="293" width="3" height="17" fill="#ffffff"/>
<rect x="518" y="301" width="1" height="11" fill="#33e843"/>
<rect x="517" y="305" width="3" height="5" fill="#33e843"/>
<rect x="524" y="296" width="1" height="9" fill="#33e843"/>
<rect x="523" y="301" width="3" height="4" fill="#33e843"/>
<rect x="529" y="296" width="1" height="6" fill="#33e843"/>
<rect x="528" y="298" width="3" height="4" fill="#33e843"/>
<rect x="534" y="286" width="1" height="14" fill="#33e843"/>
<rect x="533" y="287" width="3" height="12" fill="#33e843"/>
<rect x="539" y="268" width="1" height="19" fill="#33e843"/>
<rect x="538" y="275" width="3" height="12" fill="#33e843"/>
<rect x="545" y="264" width="1" height="12" fill="#33e843"/>
<rect x="544" y="269" width="3" height="7" fill="#33e843"/>
<rect x="550" y="268" width="1" height="9" fill="#ffffff"/>
<rect x="549" y="269" width="3" height="5" fill="#ffffff"/>
<rect x="555" y="272" width="1" height="8" fill="#33e843"/>
<rect x="554" y="273" width="3" height="3" fill="#33e843"/>
<rect x="560" y="273" width="1" height="10" fill="#ffffff"/>
<rect x="559" y="273" width="3" height="5" fill="#ffffff"/>
<rect x="566" y="269" width="1" height="9" fill="#33e843"/>
<rect x="565" y="270" width="3" height="7" fill="#33e843"/>
<rect x="571" y="232" width="1" height="38" fill="#33e843"/>
<rect x="570" y="242" width="3" height="28" fill="#33e843"/>
<rect x="576" y="241" width="1" height="14" fill="#ffffff"/>
<rect x="575" y="242" width="3" height="8" fill="#ffffff"/>
<rect x="581" y="237" width="1" height="17" fill="#33e843"/>
<rect x="580" y="237" width="3" height="15" fill="#33e843"/>
<rect x="587" y="219" width="1" height="33" fill="#33e843"/>
<rect x="586" y="221" width="3" height="17" fill="#33e843"/>
<rect x="592" y="209" width="1" height="25" fill="#33e843"/>
<rect x="591" y="214" width="3" height="8" fill="#33e843"/>
<rect x="597" y="204" width="1" height="19" fill="#ffffff"/>
<rect x="596" y="214" width="3" height="9" fill="#ffffff"/>
<rect x="602" y="219" width="1" height="10" fill="#ffffff"/>
<rect x="601" y="223" width="3" height="3" fill="#ffffff"/>
<rect x="608" y="220" width="1" height="17" fill="#ffffff"/>
<rect x="607" y="225" width="3" height="11" fill="#ffffff"/>
<rect x="613" y="222" width="1" height="14" fill="#33e843"/>
<rect x="612" y="223" width="3" height="13" fill="#33e843"/>
<rect x="618" y="211" width="1" height="22" fill="#ffffff"/>
<rect x="617" y="223" width="3" height="5" fill="#ffffff"/>
<rect x="623" y="224" width="1" height="50" fill="#ffffff"/>
<rect x="622" y="227" width="3" height="32" fill="#ffffff"/>
<rect x="629" y="223" width="1" height="36" fill="#33e843"/>
<rect x="628" y="225" width="3" height="34" fill="#33e843"/>
<rect x="634" y="225" width="1" height="30" fill="#ffffff"/>
<rect x="633" y="225" width="3" height="20" fill="#ffffff"/>
<rect x="639" y="241" width="1" height="9" fill="#33e843"/>
<rect x="638" y="242" width="3" height="3" fill="#33e843"/>
<rect x="644" y="240" width="1" height="28" fill="#ffffff"/>
<rect x="643" y="242" width="3" height="17" fill="#ffffff"/>
<rect x="650" y="254" width="1" height="26" fill="#ffffff"/>
<rect x="649" y="258" width="3" height="16" fill="#ffffff"/>
<rect x="655" y="264" width="1" height="22" fill="#ffffff"/>
<rect x="654" y="273" width="3" height="4" fill="#ffffff"/>
<rect x="660" y="270" width="1" height="14" fill="#33e843"/>
<rect x="659" y="273" width="3" height="4" fill="#33e843"/>
<rect x="665" y="266" width="1" height="22" fill="#ffffff"/>
<rect x="664" y="273" width="3" height="12" fill="#ffffff"/>
<rect x="671" y="276" width="1" height="31" fill="#ffffff"/>
<rect x="670" y="284" width="3" height="6" fill="#ffffff"/>
<rect x="676" y="286" width="1" height="19" fill="#ffffff"/>
<rect x="675" y="289" width="3" height="8" fill="#ffffff"/>
<rect x="681" y="283" width="1" height="31" fill="#33e843"/>
<rect x="680" y="284" width="3" height="13" fill="#33e843"/>
<rect x="686" y="270" width="1" height="24" fill="#33e843"/>
<rect x="685" y="281" width="3" height="4" fill="#33e843"/>
<rect x="692" y="270" width="1" height="19" fill="#33e843"/>
<rect x="691" y="278" width="3" height="4" fill="#33e843"/>
<rect x="697" y="267" width="1" height="15" fill="#33e843"/>
<rect x="696" y="275" width="3" height="4" fill="#33e843"/>
<rect x="702" y="275" width="1" height="11" fill="#ffffff"/>
<rect x="701" y="275" width="3" height="11" fill="#ffffff"/>
<rect x="707" y="283" width="1" height="23" fill="#ffffff"/>
<rect x="706" y="285" width="3" height="7" fill="#ffffff"/>
<rect x="713" y="259" width="1" height="44" fill="#33e843"/>
<rect x="712" y="276" width="3" height="13" fill="#33e843"/>
<rect x="718" y="264" width="1" height="32" fill="#ffffff"/>
<rect x="717" y="276" width="3" height="18" fill="#ffffff"/>
<rect x="723" y="286" width="1" height="12" fill="#33e843"/>
<rect x="722" y="287" width="3" height="7" fill="#33e843"/>
<rect x="728" y="284" width="1" height="5" fill="#ffffff"/>
<rect x="727" y="287" width="3" height="2" fill="#ffffff"/>
<rect x="734" y="286" width="1" height="6" fill="#33e843"/>
<rect x="733" y="286" width="3" height="1" fill="#33e843"/>
<rect x="739" y="283" width="1" height="4" fill="#33e843"/>
<rect x="738" y="284" width="3" height="3" fill="#33e843"/>
<rect x="744" y="284" width="1" height="3" fill="#ffffff"/>
<rect x="743" y="285" width="3" height="2" fill="#ffffff"/>
<rect x="749" y="285" width="1" height="5" fill="#ffffff"/>
<rect x="748" y="286" width="3" height="1" fill="#ffffff"/>
<rect x="755" y="287" width="1" height="5" fill="#ffffff"/>
<rect x="754" y="289" width="3" height="2" fill="#ffffff"/>
<rect x="760" y="285" width="1" height="5" fill="#33e843"/>
<rect x="759" y="285" width="3" height="5" fill="#33e843"/>
<rect x="765" y="283" width="1" height="4" fill="#ffffff"/>
<rect x="764" y="284" width="3" height="2" fill="#ffffff"/>
<rect x="770" y="284" width="1" height="3" fill="#33e843"/>
<rect x="769" y="285" width="3" height="1" fill="#33e843"/>
<rect x="776" y="276" width="1" height="10" fill="#33e843"/>
<rect x="775" y="282" width="3" height="4" fill="#33e843"/>
<rect x="781" y="274" width="1" height="12" fill="#ffffff"/>
<rect x="780" y="282" width="3" height="3" fill="#ffffff"/>
<rect x="786" y="279" width="1" height="16" fill="#33e843"/>
<rect x="785" y="280" width="3" height="6" fill="#33e843"/>
<rect x="791" y="249" width="1" height="37" fill="#33e843"/>
<rect x="790" y="264" width="3" height="17" fill="#33e843"/>
<rect x="797" y="254" width="1" height="19" fill="#ffffff"/>
<rect x="796" y="264" width="3" height="9" fill="#ffffff"/>
<rect x="802" y="267" width="1" height="26" fill="#ffffff"/>
<rect x="801" y="272" width="3" height="17" fill="#ffffff"/>
<rect x="807" y="266" width="1" height="32" fill="#33e843"/>
<rect x="806" y="266" width="3" height="23" fill="#33e843"/>
<rect x="812" y="253" width="1" height="27" fill="#33e843"/>
<rect x="811" y="263" width="3" height="4" fill="#33e843"/>
<rect x="818" y="259" width="1" height="22" fill="#ffffff"/>
<rect x="817" y="263" width="3" height="12" fill="#ffffff"/>
<rect x="823" y="269" width="1" height="10" fill="#33e843"/>
<rect x="822" y="272" width="3" height="3" fill="#33e843"/>
<rect x="828" y="254" width="1" height="19" fill="#33e843"/>
<rect x="827" y="261" width="3" height="11" fill="#33e843"/>
<rect x="833" y="246" width="1" height="16" fill="#33e843"/>
<rect x="832" y="260" width="3" height="2" fill="#33e843"/>
<rect x="839" y="230" width="1" height="34" fill="#33e843"/>
<rect x="838" y="230" width="3" height="30" fill="#33e843"/>
<rect x="844" y="215" width="1" height="23" fill="#33e843"/>
<rect x="843" y="215" width="3" height="16" fill="#33e843"/>
<rect x="849" y="168" width="1" height="51" fill="#33e843"/>
<rect x="848" y="191" width="3" height="24" fill="#33e843"/>
<rect x="854" y="185" width="1" height="12" fill="#33e843"/>
<rect x="853" y="185" width="3" height="7" fill="#33e843"/>
<rect x="860" y="184" width="1" height="23" fill="#ffffff"/>
<rect x="859" y="185" width="3" height="12" fill="#ffffff"/>
<rect x="865" y="192" width="1" height="13" fill="#ffffff"/>
<rect x="864" y="196" width="3" height="9" fill="#ffffff"/>
<rect x="870" y="158" width="1" height="48" fill="#33e843"/>
<rect x="869" y="164" width="3" height="41" fill="#33e843"/>
<rect x="875" y="144" width="1" height="27" fill="#33e843"/>
<rect x="874" y="154" width="3" height="11" fill="#33e843"/>
<rect x="881" y="141" width="1" height="21" fill="#ffffff"/>
<rect x="880" y="154" width="3" height="8" fill="#ffffff"/>
<rect x="886" y="160" width="1" height="24" fill="#ffffff"/>
<rect x="885" y="161" width="3" height="20" fill="#ffffff"/>
<rect x="891" y="164" width="1" height="17" fill="#33e843"/>
<rect x="890" y="166" width="3" height="15" fill="#33e843"/>
<rect x="896" y="156" width="1" height="18" fill="#ffffff"/>
<rect x="895" y="167" width="3" height="1" fill="#ffffff"/>
<rect x="902" y="157" width="1" height="34" fill="#33e843"/>
<rect x="901" y="165" width="3" height="4" fill="#33e843"/>
<rect x="907" y="158" width="1" height="38" fill="#ffffff"/>
<rect x="906" y="165" width="3" height="26" fill="#ffffff"/>
<rect x="912" y="183" width="1" height="14" fill="#33e843"/>
<rect x="911" y="188" width="3" height="3" fill="#33e843"/>
<rect x="917" y="183" width="1" height="11" fill="#ffffff"/>
<rect x="916" y="188" width="3" height="6" fill="#ffffff"/>
<rect x="923" y="183" width="1" height="14" fill="#33e843"/>
<rect x="922" y="187" width="3" height="7" fill="#33e843"/>
<rect x="928" y="183" width="1" height="12" fill="#ffffff"/>
<rect x="927" y="187" width="3" height="5" fill="#ffffff"/>
<rect x="933" y="183" width="1" height="31" fill="#ffffff"/>
<rect x="932" y="191" width="3" height="18" fill="#ffffff"/>
<rect x="938" y="195" width="1" height="15" fill="#33e843"/>
<rect x="937" y="200" width="3" height="9" fill="#33e843"/>
<rect x="944" y="188" width="1" height="18" fill="#33e843"/>
<rect x="943" y="189" width="3" height="12" fill="#33e843"/>
<rect x="949" y="187" width="1" height="9" fill="#ffffff"/>
<rect x="948" y="189" width="3" height="4" fill="#ffffff"/>
<rect x="954" y="192" width="1" height="7" fill="#ffffff"/>
<rect x="953" y="192" width="3" height="7" fill="#ffffff"/>
<rect x="959" y="193" width="1" height="6" fill="#33e843"/>
<rect x="958" y="193" width="3" height="6" fill="#33e843"/>
<rect x="965" y="187" width="1" height="9" fill="#33e843"/>
<rect x="964" y="188" width="3" height="6" fill="#33e843"/>
<rect x="970" y="188" width="1" height="7" fill="#ffffff"/>
<rect x="969" y="188" width="3" height="7" fill="#ffffff"/>
<rect x="975" y="192" width="1" height="5" fill="#ffffff"/>
<rect x="974" y="194" width="3" height="3" fill="#ffffff"/>
<rect x="980" y="195" width="1" height="7" fill="#33e843"/>
<rect x="979" y="196" width="3" height="1" fill="#33e843"/>
<rect x="986" y="196" width="1" height="4" fill="#ffffff"/>
<rect x="985" y="197" width="3" height="3" fill="#ffffff"/>
<rect x="991" y="194" width="1" height="6" fill="#33e843"/>
<rect x="990" y="197" width="3" height="3" fill="#33e843"/>
<rect x="996" y="194" width="1" height="8" fill="#ffffff"/>
<rect x="995" y="198" width="3" height="2" fill="#ffffff"/>
<rect x="1001" y="189" width="1" height="10" fill="#33e843"/>
<rect x="1000" y="192" width="3" height="7" fill="#33e843"/>
<rect x="1007" y="189" width="1" height="39" fill="#ffffff"/>
<rect x="1006" y="192" width="3" height="36" fill="#ffffff"/>
<rect x="1012" y="227" width="1" height="35" fill="#ffffff"/>
<rect x="1011" y="227" width="3" height="20" fill="#ffffff"/>
<rect x="1017" y="242" width="1" height="10" fill="#33e843"/>
<rect x="1016" y="243" width="3" height="4" fill="#33e843"/>
<rect x="1022" y="232" width="1" height="14" fill="#33e843"/>
<rect x="1021" y="237" width="3" height="7" fill="#33e843"/>
<rect x="1028" y="235" width="1" height="11" fill="#ffffff"/>
<rect x="1027" y="237" width="3" height="3" fill="#ffffff"/>
<rect x="1033" y="232" width="1" height="9" fill="#33e843"/>
<rect x="1032" y="237" width="3" height="2" fill="#33e843"/>
<rect x="1038" y="233" width="1" height="24" fill="#ffffff"/>
<rect x="1037" y="238" width="3" height="9" fill="#ffffff"/>
<rect x="1043" y="242" width="1" height="13" fill="#ffffff"/>
<rect x="1042" y="247" width="3" height="3" fill="#ffffff"/>
<rect x="1049" y="250" width="1" height="34" fill="#ffffff"/>
<rect x="1048" y="251" width="3" height="26" fill="#ffffff"/>
<rect x="1054" y="271" width="1" height="15" fill="#33e843"/>
<rect x="1053" y="274" width="3" height="2" fill="#33e843"/>
<rect x="1059" y="275" width="1" height="28" fill="#ffffff"/>
<rect x="1058" y="276" width="3" height="11" fill="#ffffff"/>
<rect x="1064" y="286" width="1" height="28" fill="#ffffff"/>
<rect x="1063" y="286" width="3" height="21" fill="#ffffff"/>
<rect x="1070" y="303" width="1" height="40" fill="#ffffff"/>
<rect x="1069" y="306" width="3" height="26" fill="#ffffff"/>
<rect x="1075" y="310" width="1" height="25" fill="#33e843"/>
<rect x="1074" y="312" width="3" height="20" fill="#33e843"/>
<rect x="1080" y="298" width="1" height="26" fill="#ffffff"/>
<rect x="1079" y="312" width="3" height="5" fill="#ffffff"/>
<rect x="1085" y="310" width="1" height="14" fill="#ffffff"/>
<rect x="1084" y="316" width="3" height="8" fill="#ffffff"/>
<rect x="1091" y="288" width="1" height="49" fill="#33e843"/>
<rect x="1090" y="294" width="3" height="30" fill="#33e843"/>
<rect x="1096" y="291" width="1" height="64" fill="#33e843"/>
<rect x="1095" y="293" width="3" height="2" fill="#33e843"/>
<rect x="1101" y="292" width="1" height="21" fill="#ffffff"/>
<rect x="1100" y="293" width="3" height="19" fill="#ffffff"/>
<rect x="1106" y="293" width="1" height="19" fill="#33e843"/>
<rect x="1105" y="302" width="3" height="10" fill="#33e843"/>
<rect x="1112" y="296" width="1" height="9" fill="#ffffff"/>
<rect x="1111" y="302" width="3" height="3" fill="#ffffff"/>
<rect x="1117" y="297" width="1" height="8" fill="#33e843"/>
<rect x="1116" y="301" width="3" height="4" fill="#33e843"/>
<rect x="1122" y="293" width="1" height="37" fill="#ffffff"/>
<rect x="1121" y="301" width="3" height="18" fill="#ffffff"/>
<rect x="1127" y="302" width="1" height="25" fill="#33e843"/>
<rect x="1126" y="305" width="3" height="14" fill="#33e843"/>
<rect x="1133" y="301" width="1" height="16" fill="#ffffff"/>
<rect x="1132" y="305" width="3" height="4" fill="#ffffff"/>
<rect x="1138" y="300" width="1" height="11" fill="#33e843"/>
<rect x="1137" y="301" width="3" height="7" fill="#33e843"/>
<rect x="1143" y="298" width="1" height="14" fill="#ffffff"/>
<rect x="1142" y="301" width="3" height="9" fill="#ffffff"/>
<rect x="1148" y="308" width="1" height="15" fill="#ffffff"/>
<rect x="1147" y="309" width="3" height="8" fill="#ffffff"/>
<rect x="1154" y="303" width="1" height="26" fill="#33e843"/>
<rect x="1153" y="305" width="3" height="12" fill="#33e843"/>
<rect x="1159" y="275" width="1" height="36" fill="#33e843"/>
<rect x="1158" y="300" width="3" height="7" fill="#33e843"/>
<rect x="1164" y="297" width="1" height="19" fill="#ffffff"/>
<rect x="1163" y="300" width="3" height="9" fill="#ffffff"/>
<rect x="1169" y="301" width="1" height="11" fill="#33e843"/>
<rect x="1168" y="305" width="3" height="4" fill="#33e843"/>
<rect x="1175" y="303" width="1" height="6" fill="#ffffff"/>
<rect x="1174" y="305" width="3" height="4" fill="#ffffff"/>
<rect x="1180" y="307" width="1" height="2" fill="#ffffff"/>
<rect x="1179" y="307" width="3" height="2" fill="#ffffff"/>
<rect x="1185" y="308" width="1" height="9" fill="#ffffff"/>
<rect x="1184" y="308" width="3" height="7" fill="#ffffff"/>
<rect x="1190" y="311" width="1" height="6" fill="#33e843"/>
<rect x="1189" y="313" width="3" height="3" fill="#33e843"/>
<rect x="1196" y="312" width="1" height="4" fill="#ffffff"/>
<rect x="1195" y="313" width="3" height="3" fill="#ffffff"/>
<rect x="1201" y="314" width="1" height="9" fill="#ffffff"/>
<rect x="1200" y="315" width="3" height="4" fill="#ffffff"/>
<rect x="1206" y="318" width="1" height="10" fill="#ffffff"/>
<rect x="1205" y="319" width="3" height="9" fill="#ffffff"/>
<rect x="1211" y="325" width="1" height="12" fill="#ffffff"/>
<rect x="1210" y="327" width="3" height="4" fill="#ffffff"/>
<rect x="1217" y="325" width="1" height="7" fill="#ffffff"/>
<rect x="1216" y="329" width="3" height="3" fill="#ffffff"/>
<rect x="1222" y="331" width="1" height="45" fill="#ffffff"/>
<rect x="1221" y="332" width="3" height="39" fill="#ffffff"/>
<rect x="1227" y="360" width="1" height="19" fill="#33e843"/>
<rect x="1226" y="367" width="3" height="4" fill="#33e843"/>
<rect x="1232" y="341" width="1" height="29" fill="#33e843"/>
<rect x="1231" y="354" width="3" height="15" fill="#33e843"/>
<rect x="1238" y="338" width="1" height="17" fill="#33e843"/>
<rect x="1237" y="340" width="3" height="14" fill="#33e843"/>
<rect x="1243" y="332" width="1" height="16" fill="#ffffff"/>
<rect x="1242" y="340" width="3" height="4" fill="#ffffff"/>
<rect x="1248" y="323" width="1" height="31" fill="#ffffff"/>
<rect x="1247" y="343" width="3" height="5" fill="#ffffff"/>
<rect x="1253" y="329" width="1" height="31" fill="#33e843"/>
<rect x="1252" y="340" width="3" height="8" fill="#33e843"/>
<rect x="1259" y="327" width="1" height="22" fill="#33e843"/>
<rect x="1258" y="333" width="3" height="8" fill="#33e843"/>
<rect x="1264" y="322" width="1" height="14" fill="#33e843"/>
<rect x="1263" y="324" width="3" height="10" fill="#33e843"/>
<rect x="1269" y="320" width="1" height="15" fill="#ffffff"/>
<rect x="1268" y="324" width="3" height="11" fill="#ffffff"/>
<rect x="1274" y="332" width="1" height="13" fill="#ffffff"/>
<rect x="1273" y="334" width="3" height="7" fill="#ffffff"/>
<rect x="1280" y="331" width="1" height="18" fill="#33e843"/>
<rect x="1279" y="339" width="3" height="1" fill="#33e843"/>
<rect x="1285" y="323" width="1" height="31" fill="#33e843"/>
<rect x="1284" y="332" width="3" height="8" fill="#33e843"/>
<rect x="1290" y="309" width="1" height="24" fill="#33e843"/>
<rect x="1289" y="317" width="3" height="15" fill="#33e843"/>
<rect x="1295" y="310" width="1" height="10" fill="#ffffff"/>
<rect x="1294" y="316" width="3" height="3" fill="#ffffff"/>
<rect x="1301" y="312" width="1" height="9" fill="#33e843"/>
<rect x="1300" y="316" width="3" height="2" fill="#33e843"/>
<rect x="1306" y="297" width="1" height="26" fill="#33e843"/>
<rect x="1305" y="297" width="3" height="19" fill="#33e843"/>
<rect x="1311" y="291" width="1" height="31" fill="#ffffff"/>
<rect x="1310" y="297" width="3" height="14" fill="#ffffff"/>
<rect x="1316" y="288" width="1" height="32" fill="#ffffff"/>
<rect x="1315" y="311" width="3" height="2" fill="#ffffff"/>
<rect x="1322" y="302" width="1" height="21" fill="#ffffff"/>
<rect x="1321" y="312" width="3" height="2" fill="#ffffff"/>
<rect x="1327" y="315" width="1" height="31" fill="#ffffff"/>
<rect x="1326" y="315" width="3" height="25" fill="#ffffff"/>
<rect x="1332" y="332" width="1" height="10" fill="#33e843"/>
<rect x="1331" y="333" width="3" height="7" fill="#33e843"/>
<rect x="1338" y="330" width="1" height="15" fill="#ffffff"/>
<rect x="1337" y="333" width="3" height="11" fill="#ffffff"/>
<rect x="1343" y="336" width="1" height="76" fill="#ffffff"/>
<rect x="1342" y="343" width="3" height="60" fill="#ffffff"/>
<rect x="1348" y="387" width="1" height="46" fill="#ffffff"/>
<rect x="1347" y="402" width="3" height="19" fill="#ffffff"/>
<rect x="1353" y="406" width="1" height="18" fill="#33e843"/>
<rect x="1352" y="407" width="3" height="14" fill="#33e843"/>
<rect x="1359" y="406" width="1" height="72" fill="#ffffff"/>
<rect x="1358" y="407" width="3" height="41" fill="#ffffff"/>
<rect x="1364" y="434" width="1" height="25" fill="#33e843"/>
<rect x="1363" y="444" width="3" height="4" fill="#33e843"/>
<rect x="1369" y="437" width="1" height="20" fill="#33e843"/>
<rect x="1368" y="437" width="3" height="8" fill="#33e843"/>
<rect x="1374" y="424" width="1" height="29" fill="#ffffff"/>
<rect x="1373" y="437" width="3" height="6" fill="#ffffff"/>
<rect x="1380" y="407" width="1" height="56" fill="#33e843"/>
<rect x="1379" y="415" width="3" height="29" fill="#33e843"/>
<rect x="1385" y="410" width="1" height="19" fill="#33e843"/>
<rect x="1384" y="415" width="3" height="1" fill="#33e843"/>
<rect x="1390" y="415" width="1" height="9" fill="#ffffff"/>
<rect x="1389" y="415" width="3" height="6" fill="#ffffff"/>
<rect x="1395" y="417" width="1" height="15" fill="#ffffff"/>
<rect x="1394" y="420" width="3" height="10" fill="#ffffff"/>
<rect x="1401" y="428" width="1" height="21" fill="#ffffff"/>
<rect x="1400" y="429" width="3" height="12" fill="#ffffff"/>
<rect x="1406" y="437" width="1" height="47" fill="#ffffff"/>
<rect x="1405" y="440" width="3" height="35" fill="#ffffff"/>
<rect x="1411" y="456" width="1" height="131" fill="#ffffff"/>
<rect x="1410" y="474" width="3" height="73" fill="#ffffff"/>
<rect x="1416" y="516" width="1" height="43" fill="#33e843"/>
<rect x="1415" y="526" width="3" height="21" fill="#33e843"/>
<rect x="1422" y="512" width="1" height="23" fill="#33e843"/>
<rect x="1421" y="523" width="3" height="4" fill="#33e843"/>
<rect x="1427" y="518" width="1" height="23" fill="#ffffff"/>
<rect x="1426" y="523" width="3" height="11" fill="#ffffff"/>
<rect x="1432" y="516" width="1" height="22" fill="#33e843"/>
<rect x="1431" y="526" width="3" height="8" fill="#33e843"/>
<rect x="1437" y="524" width="1" height="41" fill="#ffffff"/>
<rect x="1436" y="526" width="3" height="24" fill="#ffffff"/>
<rect x="1443" y="532" width="1" height="29" fill="#ffffff"/>
<rect x="1442" y="549" width="3" height="9" fill="#ffffff"/>
<rect x="1448" y="545" width="1" height="41" fill="#ffffff"/>
<rect x="1447" y="557" width="3" height="5" fill="#ffffff"/>
<rect x="1453" y="537" width="1" height="72" fill="#ffffff"/>
<rect x="1452" y="561" width="3" height="14" fill="#ffffff"/>
<rect x="1458" y="564" width="1" height="39" fill="#ffffff"/>
<rect x="1457" y="574" width="3" height="3" fill="#ffffff"/>
</g>
<path d="M10 366.2 C11.2 365.8 15 363.5 17.5 363.8 C20 364 22.1 366 25 367.5 C27.9 369 32.1 372.5 35 373 C37.9 373.5 40 372.5 42.5 370.5 C45 368.5 47.1 365.1 50 361.2 C52.9 357.4 56.2 351.9 60 347.5 C63.8 343.1 68.3 338.2 72.5 335 C76.7 331.8 81.2 329.3 85 328 C88.8 326.7 91.2 326.8 95 327 C98.8 327.2 103.3 328.6 107.5 329.2 C111.7 329.9 116.2 330.8 120 330.8 C123.8 330.7 127.4 329.7 130 329.2 C132.6 328.7 133.7 328.8 135.5 327.5 C137.3 326.2 139.1 323.5 140.9 321.7 C142.7 319.9 144.6 317.9 146.4 316.8 C148.2 315.7 150.2 315.4 151.9 315.2 C153.6 315 154.5 314.8 156.3 315.4 C158.1 316 160.8 317.4 162.8 319 C164.8 320.6 166.5 323.1 168.3 325 C170.1 326.9 172 328.5 173.8 330.5 C175.6 332.5 177.4 335 179.2 337 C181 339 182.9 340.8 184.7 342.5 C186.5 344.2 188 345.4 190.2 347.5 C192.4 349.6 195.2 352.8 197.7 354.9 C200.2 357 202.7 358.6 205.2 359.9 C207.7 361.1 210.2 362.4 212.7 362.4 C215.2 362.4 217.3 361.1 220.2 359.9 C223.1 358.6 227.2 356.3 230.1 354.9 C233 353.5 234.2 353.3 237.5 351.2 C240.8 349.2 246.2 345 250 342.5 C253.8 340 256.9 337.8 260 336.2 C263.1 334.7 265.8 333.2 268.8 333.2 C271.7 333.2 274.4 334.7 277.5 336.2 C280.6 337.8 284.2 340.5 287.5 342.5 C290.8 344.5 294.2 346.6 297.5 348 C300.8 349.4 303.8 350.3 307.5 350.8 C311.2 351.2 315.8 351.3 320 350.8 C324.2 350.2 328.3 348.9 332.5 347.5 C336.7 346.1 342.1 344 345 342.5 C347.9 341 348.1 340.5 350 338.4 C351.9 336.3 354.5 331.9 356.5 329.9 C358.5 327.9 360.2 327.2 361.8 326.6 C363.4 326.1 364.7 326 366.4 326.6 C368.1 327.2 370.1 329 372.2 330.5 C374.3 332 376.6 333.9 378.8 335.8 C381 337.7 383.1 340 385.3 341.7 C387.5 343.4 389.7 345.4 391.9 345.9 C394.1 346.4 396.2 345.5 398.4 344.9 C400.6 344.3 402.7 343.3 404.9 342.3 C407.1 341.3 409.3 340.2 411.5 339.1 C413.7 338 416 337 418 335.8 C420 334.6 421.6 333 423.3 331.9 C425.1 330.8 426.6 329.6 428.5 329.2 C430.4 328.8 432.5 328.8 434.4 329.2 C436.2 329.6 437.7 330.7 439.6 331.9 C441.6 333.1 443.9 335 446.1 336.4 C448.3 337.8 450.5 339 452.7 340 C454.9 341 457.1 342 459.2 342.3 C461.3 342.6 463.3 342.3 465.1 342 C466.9 341.7 467.8 341.5 470 340.3 C472.2 339.1 475 338.2 478.5 334.8 C482 331.4 486.9 324.8 491 319.8 C495.1 314.8 499.7 308.5 503.4 304.9 C507.1 301.3 510.7 299.6 513.4 298 C516.1 296.4 516.8 296.3 519.7 295.5 C522.6 294.7 528 294.4 530.9 293 C533.8 291.6 534.6 289.8 537.1 287.4 C539.6 285 542.8 281.1 545.9 278.7 C549 276.3 552.6 274.9 555.9 273 C559.2 271.1 563.4 268.9 565.8 267.4 C568.1 265.9 568.1 265.9 570 263.9 C571.9 261.9 574.7 258.6 577.1 255.4 C579.5 252.2 581.8 248.6 584.2 244.7 C586.6 240.8 589.2 235.6 591.3 231.9 C593.4 228.2 595.2 225.1 597 222.7 C598.8 220.3 600.4 219 602 217.7 C603.6 216.4 605.1 215.8 606.9 214.9 C608.7 214 610.7 212.9 612.6 212.4 C614.5 211.9 616.6 211.2 618.3 211.7 C620 212.2 620.8 214.5 622.6 215.6 C624.4 216.7 627 217.1 628.9 218.4 C630.8 219.7 631.9 221.3 633.9 223.4 C635.9 225.5 638.6 228.2 641 231.2 C643.4 234.2 645.7 237.6 648.1 241.2 C650.5 244.8 652.5 248 655.2 252.5 C657.9 257 661.8 263.6 664.5 268.2 C667.2 272.8 669.5 276.8 671.5 280 C673.5 283.2 674.4 285 676.5 287.5 C678.6 290 681.1 293.4 684 295 C686.9 296.6 690.2 297.2 694 297 C697.8 296.8 702.3 295.1 706.5 293.8 C710.7 292.4 714.4 289.9 719 288.8 C723.6 287.6 727.3 287 734 287 C740.7 287 751.5 288.9 759 288.8 C766.5 288.6 773.2 287.7 779 286.2 C784.8 284.8 789 282.3 794 280 C799 277.7 803.8 274.6 809 272.5 C814.2 270.4 821.3 268.8 825 267.5 C828.7 266.2 828.9 266.3 831.2 264.8 C833.5 263.3 836.4 261.4 838.7 258.5 C841 255.6 842.9 252.1 845 247.3 C847.1 242.5 849.1 235.2 851.2 229.8 C853.3 224.4 855.3 220 857.4 214.9 C859.5 209.8 862 203.3 863.7 199.5 C865.4 195.7 866.1 195.3 867.6 191.9 C869.1 188.5 870.7 183.2 872.5 178.8 C874.3 174.4 876.6 169.2 878.5 165.6 C880.4 161.9 882.1 159.3 884 156.9 C885.9 154.5 888 152.3 890 150.9 C892 149.5 894 148.8 896 148.4 C898 148 900 147.8 902 148.4 C904 149 906.2 150.3 908.1 152 C910 153.7 911.7 156.1 913.5 158.5 C915.3 160.9 916.9 163.3 919 166.2 C921.1 169.1 924.2 173.5 926 175.8 C927.8 178.1 928.2 178.3 929.5 180 C930.8 181.7 932.1 184 933.6 186.2 C935.1 188.4 936.7 191.1 938.6 193 C940.5 194.9 942.7 196.2 944.8 197.4 C946.9 198.6 948.7 199.3 951 199.9 C953.3 200.5 956 201 958.5 200.9 C961 200.8 963.5 200.1 966 199.6 C968.5 199.1 970.8 198.5 973.5 198 C976.2 197.5 977.8 197.1 982.2 196.8 C986.6 196.5 996 196.1 999.7 196.2 C1003.5 196.3 1003.2 196.8 1004.7 197.4 C1006.2 198 1007.1 198.5 1008.4 199.9 C1009.6 201.3 1010.7 203.4 1012.2 206.1 C1013.7 208.8 1015.5 213 1017.2 216.1 C1018.9 219.2 1020.1 221.8 1022.2 224.9 C1024.3 228 1027.2 231.7 1029.7 234.8 C1032.2 237.9 1034.6 240.9 1037.1 243.6 C1039.6 246.3 1042.6 249 1044.6 251.1 C1046.6 253.2 1047.2 253.4 1049 256.1 C1050.8 258.8 1053.4 263.5 1055.5 267.5 C1057.6 271.5 1060 276.5 1061.8 280 C1063.6 283.5 1064.7 285.2 1066.4 288.5 C1068.1 291.8 1070.2 295.8 1072.2 299.6 C1074.2 303.4 1076.1 307.6 1078.1 311.4 C1080.1 315.2 1081.9 319.7 1084 322.5 C1086.1 325.3 1088.4 327.2 1090.5 328.2 C1092.6 329.2 1094.5 328.7 1096.4 328.4 C1098.3 328.1 1100 327.4 1101.7 326.4 C1103.5 325.4 1105.1 323.9 1106.9 322.5 C1108.8 321.1 1110.8 319.2 1112.8 317.9 C1114.8 316.6 1116.7 315.7 1118.7 314.7 C1120.7 313.7 1122.6 312.8 1124.6 312 C1126.5 311.2 1128.5 310.7 1130.4 310.1 C1132.4 309.5 1134.3 308.9 1136.3 308.5 C1138.3 308.1 1140.2 307.6 1142.2 307.5 C1144.2 307.4 1146 307.5 1148.1 307.6 C1150.2 307.7 1152.4 307.9 1154.6 307.9 C1156.8 307.9 1158.1 307.6 1161.2 307.4 C1164.3 307.2 1167.7 306.4 1173 306.8 C1178.3 307.2 1187.6 308.1 1193 309.5 C1198.4 310.9 1201.8 312.6 1205.5 315 C1209.2 317.4 1212.6 320.4 1215.5 323.8 C1218.4 327.1 1220.5 331 1223 335 C1225.5 339 1228 344.2 1230.5 347.5 C1233 350.8 1235.1 353.2 1238 355 C1240.9 356.8 1244.7 358 1248 358 C1251.3 358 1254.7 357 1258 355 C1261.3 353 1264.7 349 1268 346.2 C1271.3 343.5 1274.7 341 1278 338.8 C1281.3 336.5 1284.7 334.8 1288 332.5 C1291.3 330.2 1294.7 327.9 1298 325 C1301.3 322.1 1305.1 317.7 1308 315 C1310.9 312.3 1313 310.2 1315.5 308.8 C1318 307.3 1320.5 306.2 1323 306.2 C1325.5 306.2 1328 306.9 1330.5 308.8 C1333 310.6 1335.9 314 1338 317.5 C1340.1 321 1341.3 325 1343 330 C1344.7 335 1346.3 341.2 1348 347.5 C1349.7 353.8 1350.9 360 1353 367.5 C1355.1 375 1358 383.8 1360.5 392.5 C1363 401.2 1365.9 411.7 1368 420 C1370.1 428.3 1371.7 437.6 1373 442.5 C1374.3 447.4 1374.2 447 1376 449.6 C1377.8 452.2 1380.8 457.2 1383.7 458.2 C1386.6 459.2 1390.4 456.7 1393.3 455.4 C1396.2 454.1 1398.9 451.2 1401 450.6 C1403.1 450 1404 449.1 1405.8 451.5 C1407.5 453.9 1409.1 458.3 1411.5 465 C1413.9 471.7 1417.1 483.2 1420.1 491.8 C1423.1 500.4 1426.5 508.8 1429.7 516.8 C1432.9 524.8 1436.1 532.1 1439.3 539.8 C1442.5 547.5 1445.7 555.6 1448.9 562.8 C1452.1 570 1456.9 579.6 1458.5 583" fill="none" stroke="#ba68c8" stroke-width="2" stroke-linecap="round"/>
<g shape-rendering="crispEdges" fill="#ffeb3b">
<rect x="10" y="100" width="1723" height="1"/>
<rect x="10" y="207" width="1723" height="1"/>
<rect x="10" y="290" width="1723" height="1"/>
<rect x="10" y="380" width="1723" height="1"/>
<rect x="10" y="412" width="1723" height="1"/>
<rect x="10" y="487" width="1723" height="1"/>
<rect x="10" y="607" width="1723" height="1"/>
</g>
</g>
<g clip-path="url(#cs)">
<path d="M10 830 L15 825 L20 818 L25 827 L30 830.8 L35 827 L40 820.5 L46.2 811.2 L52.5 805.5 L62.5 798 L72.5 790.8 L77.5 789.2 L85 787.5 L92.5 785.2 L102.5 785 L108.8 783 L113.8 784 L122.5 782 L130 780 L135 777.5 L140 773 L145.8 770 L150 774.5 L157.5 777.5 L165 783.8 L172.5 788.8 L180 793.8 L190 798.2 L197.5 803 L208.8 806.8 L217.5 805 L225 802.5 L235 800.8 L245 795.8 L251.2 798 L256.2 792.5 L265.5 788 L272.5 793 L282.5 796.5 L297.5 798.2 L307.5 798.8 L317.5 796.2 L335 795 L345 793.8 L350 783.8 L355.8 778.2 L361.2 782.5 L370 788.2 L377.5 793 L386.2 796.8 L392.5 795.8 L397.5 790.8 L407.5 787.5 L417.5 785 L423.8 782 L430 784.5 L437.5 789.5 L447.5 792.5 L459 793.8 L466.5 791.2 L474 786.2 L481.5 783.8 L489 778.8 L499 772.5 L507.8 767 L516.5 768 L529 766.2 L536.5 762.5 L544 757 L554 753.8 L565.2 753.2 L571.5 747.5 L579 743.2 L586.5 736.2 L592.8 730 L600.2 728 L607.8 730.8 L616.5 733 L622.8 742 L629 742.5 L639 751.2 L646.5 762.5 L654 773.8 L661.5 782.5 L669 791.2 L675.2 798.8 L684 803 L696.5 803.8 L706.5 807 L711.5 805.8 L719 808.2 L731.5 808.8 L746.5 807 L759 806.2 L771.5 803.8 L784 800.8 L791.5 796.2 L796.5 794.5 L801.5 795.8 L809 789.5 L821.5 787.5 L831.5 783.8 L839 776.2 L846.5 761.2 L854 746.2 L859 741.2 L864 739.5 L871.5 727.5 L876.5 721.2 L881.5 718.8 L886.5 720 L894 719.5 L901.5 720.5 L909 730 L918 738.8 L928 747.5 L938 758.8 L945.5 761.2 L958 768 L968 770.5 L980.5 776.2 L993 780.5 L1001.8 781.8 L1008 790 L1015.5 803.8 L1025.5 811.2 L1035.5 816.2 L1043 821.2 L1050.5 830 L1059.2 840 L1069.2 857.5 L1078 863.8 L1084.8 867.5 L1095.5 858.8 L1103 857 L1116.8 848.8 L1121.8 849.2 L1130.5 844.5 L1140.5 838.8 L1148 837 L1158 830.8 L1168 825.8 L1180.5 821.2 L1195.5 819.2 L1208 821.2 L1216.8 822.5 L1221.8 830.5 L1226.8 836.8 L1231.8 837.5 L1240.5 833.8 L1253 830 L1263 821.2 L1270.5 817.5 L1278 816.2 L1285.5 812.5 L1293 805.5 L1301.8 800 L1308 791.2 L1315.5 788.2 L1321.8 787.5 L1328 792.5 L1338 797.5 L1343 812.5 L1348 827.5 L1355.5 842.5 L1363 860 L1373 871.2 L1376 870 L1383.5 866.2 L1391 863 L1399.8 863.2 L1406 871.2 L1411 888.8 L1416 898 L1426 908.8 L1431 910.5 L1438.5 916.2 L1451 923 L1457.8 925 L1457.8 793.5 L10 793.5Z" fill="#63656c"/>
<rect x="10" y="793" width="1723" height="1" fill="#f0f0f0" shape-rendering="crispEdges"/>
<path d="M10 833.8 C11.7 833.1 16.2 830.8 20 830 C23.8 829.2 28.8 829.9 32.5 829.2 C36.2 828.6 38.8 828.2 42.5 826.2 C46.2 824.3 49.6 821.2 55 817.5 C60.4 813.8 68.3 807.7 75 803.8 C81.7 799.8 88.8 796.2 95 793.8 C101.2 791.2 105.8 790.4 112.5 788.8 C119.2 787.1 129.2 785.4 135 783.8 C140.8 782.1 143.8 779.7 147.5 778.8 C151.2 777.8 153.8 777.7 157.5 778 C161.2 778.3 165 778.8 170 780.5 C175 782.2 182.5 786 187.5 788.2 C192.5 790.5 195.8 792.1 200 793.8 C204.2 795.4 208.3 796.9 212.5 798 C216.7 799.1 221.2 800.1 225 800.5 C228.8 800.9 230.4 800.9 235 800.5 C239.6 800.1 247.5 798.9 252.5 798 C257.5 797.1 261.2 795.6 265 795 C268.8 794.4 270.8 794.2 275 794.2 C279.2 794.3 284.6 795 290 795.5 C295.4 796 301.7 796.9 307.5 797 C313.3 797.1 318.8 796.6 325 796.2 C331.2 795.9 340 796 345 795 C350 794 351.7 791.1 355 790 C358.3 788.9 361.7 788.4 365 788.2 C368.3 788.1 370.8 788.6 375 789.2 C379.2 789.9 385 791.8 390 792 C395 792.2 400 791.3 405 790.8 C410 790.2 416 789.4 420 788.8 C424 788.1 425.4 786.8 428.8 786.8 C432.1 786.7 435 787.6 440 788.2 C445 788.9 454.2 790.2 459 790.8 C463.8 791.2 464.8 791.8 469 791.2 C473.2 790.7 477.3 789.9 484 787.5 C490.7 785.1 500.7 779.9 509 777 C517.3 774.1 526.5 772.6 534 770 C541.5 767.4 548.6 763.2 554 761.2 C559.4 759.2 561.5 760 566.5 758 C571.5 756 578.2 752.6 584 749.5 C589.8 746.4 596.1 741.5 601.5 739.2 C606.9 737 611.1 736.1 616.5 736.2 C621.9 736.4 628.6 737.8 634 740 C639.4 742.2 644 745.5 649 749.5 C654 753.5 659.4 759.3 664 763.8 C668.6 768.2 672.8 772.7 676.5 776.2 C680.2 779.8 682.8 782.4 686.5 785 C690.2 787.6 694.4 789.7 699 792 C703.6 794.3 708.6 796.8 714 798.8 C719.4 800.7 724.8 802.6 731.5 803.8 C738.2 804.9 747.3 805.6 754 805.8 C760.7 805.9 766.1 805 771.5 804.5 C776.9 804 781.1 803.6 786.5 802.5 C791.9 801.4 798.2 799.6 804 798 C809.8 796.4 816.5 794.5 821.5 793 C826.5 791.5 830.2 790.7 834 788.8 C837.8 786.8 840.7 784.4 844 781.2 C847.3 778.1 850.2 774 854 770 C857.8 766 862.3 761.9 866.5 757.5 C870.7 753.1 874.8 747.7 879 743.8 C883.2 739.8 887.3 736.2 891.5 733.8 C895.7 731.3 899.6 729.7 904 729.2 C908.4 728.8 914 730.1 918 731.2 C922 732.4 924.7 734.2 928 736.2 C931.3 738.3 933 740.4 938 743.8 C943 747.1 950.9 752.4 958 756.2 C965.1 760.1 973.8 764 980.5 767 C987.2 770 993.6 772.5 998 774.2 C1002.4 776 1002.6 774.6 1006.8 777.5 C1010.9 780.4 1017.8 787.6 1023 791.8 C1028.2 795.9 1033.4 799.2 1038 802.5 C1042.6 805.8 1045.5 807.4 1050.5 811.8 C1055.5 816.1 1063.4 824 1068 828.8 C1072.6 833.5 1075.1 836.9 1078 840 C1080.9 843.1 1082.6 845.5 1085.5 847.5 C1088.4 849.5 1092.2 851 1095.5 852 C1098.8 853 1101.3 853.8 1105.5 853.8 C1109.7 853.8 1115.5 853 1120.5 852 C1125.5 851 1130.1 849.7 1135.5 848 C1140.9 846.3 1147.6 843.9 1153 841.8 C1158.4 839.6 1163 837.2 1168 835 C1173 832.8 1178 830.4 1183 828.8 C1188 827.1 1192.6 825.9 1198 825 C1203.4 824.1 1211.3 823.2 1215.5 823.2 C1219.7 823.3 1220.1 824.5 1223 825.5 C1225.9 826.5 1228.8 828.3 1233 829.2 C1237.2 830.2 1243.8 831.1 1248 831.2 C1252.2 831.4 1254.2 831 1258 830 C1261.8 829 1266.3 826.5 1270.5 825 C1274.7 823.5 1278 823.3 1283 821.2 C1288 819.2 1295.5 815.4 1300.5 812.5 C1305.5 809.6 1309.2 806 1313 803.8 C1316.8 801.5 1319.7 799.9 1323 798.8 C1326.3 797.6 1330.5 797.2 1333 797 C1335.5 796.8 1336.3 796.9 1338 797.5 C1339.7 798.1 1339.7 797.2 1343 800.5 C1346.3 803.8 1353.8 812 1358 817.5 C1362.2 823 1365.5 829.8 1368 833.8 C1370.5 837.7 1371.5 839.4 1373 841.2 C1374.5 843.1 1374.8 843.2 1377 845 C1379.2 846.8 1382 850 1386 852 C1390 854 1397.7 855.7 1401 857 C1404.3 858.3 1403.5 857.4 1406 860 C1408.5 862.6 1412.7 868.5 1416 872.5 C1419.3 876.5 1422.7 880.2 1426 883.8 C1429.3 887.3 1432.2 890.4 1436 893.8 C1439.8 897.1 1444.9 901 1448.5 903.8 C1452.1 906.5 1456.2 909.4 1457.8 910.5" fill="none" stroke="#f23645" stroke-width="1.2"/>
</g>
<g shape-rendering="crispEdges">
<rect x="1733" y="27" width="1" height="954" fill="#8a8a8a"/>
<rect x="10" y="693" width="1815" height="1" fill="#d9dbe1"/>
<rect x="10" y="946" width="1815" height="1" fill="#8a8a8a"/>
</g>
</svg>
<div class="ov">
<div class="hdr"><span class="sg" style="left:9.6px;top:5.6px;font-size:12.5px;color:#d4d4d4;transform:scaleX(0.7767)">2</span><span class="sg cj" style="left:15.0px;top:5.6px;width:11.8px;font-size:11.80px;color:#d4d4d4">月</span><span class="sg" style="left:32.0px;top:5.6px;font-size:12.5px;color:#d4d4d4;transform:scaleX(0.9178)">02, 2026 15:56 UTC+9</span><span class="sg cj" style="left:148.6px;top:5.6px;width:11.8px;font-size:11.80px;color:#d4d4d4">、</span><span class="sg" style="left:161.0px;top:5.6px;font-size:12.5px;color:#d4d4d4;transform:scaleX(0.9842)">takataba</span><span class="sg cj" style="left:208.3px;top:5.6px;width:11.7px;font-size:11.70px;color:#d4d4d4">が</span><span class="sg" style="left:220.3px;top:5.6px;font-size:12.5px;color:#d4d4d4;transform:scaleX(0.9560)">TradingView.com</span><span class="sg cj" style="left:311.6px;top:5.6px;width:35.1px;font-size:11.70px;color:#d4d4d4">で作成</span></div>
<div class="lgd"><span class="sg" style="left:17.6px;top:33.0px;font-size:12px;color:#c2c4ca;transform:scaleX(0.8523)">BTCUSDT SPOT</span><span class="sg" style="left:99.6px;top:33.0px;font-size:12px;color:#c2c4ca;transform:scaleX(0.9508)">·</span><span class="sg" style="left:109.2px;top:33.0px;font-size:12px;color:#c2c4ca;transform:scaleX(1.2436)">4</span><span class="sg cj" style="left:117.6px;top:33.0px;width:22.6px;font-size:11.30px;color:#c2c4ca">時間</span><span class="sg" style="left:142.7px;top:33.0px;font-size:12px;color:#c2c4ca;transform:scaleX(0.9508)">·</span><span class="sg" style="left:151.2px;top:33.0px;font-size:12px;color:#c2c4ca;transform:scaleX(1.0345)">Bybit</span><span class="sg cj" style="left:186.7px;top:33.0px;width:23.5px;font-size:11.75px;color:#c2c4ca">始値</span><span class="sg" style="left:210.5px;top:33.0px;font-size:12px;font-weight:700;color:#e9e9e9;transform:scaleX(1.0011)">76,311.6</span><span class="sg cj" style="left:264.4px;top:33.0px;width:23.5px;font-size:11.75px;color:#c2c4ca">高値</span><span class="sg" style="left:288.2px;top:33.0px;font-size:12px;font-weight:700;color:#e9e9e9;transform:scaleX(0.9933)">76,828.8</span><span class="sg cj" style="left:342.2px;top:33.0px;width:23.4px;font-size:11.70px;color:#c2c4ca">安値</span><span class="sg" style="left:365.9px;top:33.0px;font-size:12px;font-weight:700;color:#e9e9e9;transform:scaleX(0.9997)">74,902.4</span><span class="sg cj" style="left:419.8px;top:33.0px;width:23.4px;font-size:11.70px;color:#c2c4ca">終値</span><span class="sg" style="left:443.5px;top:33.0px;font-size:12px;font-weight:700;color:#e9e9e9;transform:scaleX(0.9955)">76,255.3</span></div>
<div class="pl" style="top:58.8px">102,000.0</div>
<div class="pl" style="top:98.8px">100,000.0</div>
<div class="pl" style="top:138.8px">98,000.0</div>
<div class="pl" style="top:178.9px">96,000.0</div>
<div class="pl" style="top:218.9px">94,000.0</div>
<div class="pl" style="top:259.0px">92,000.0</div>
<div class="pl" style="top:299.0px">90,000.0</div>
<div class="pl" style="top:339.1px">88,000.0</div>
<div class="pl" style="top:379.1px">86,000.0</div>
<div class="pl" style="top:419.2px">84,000.0</div>
<div class="pl" style="top:459.2px">82,000.0</div>
<div class="pl" style="top:499.3px">80,000.0</div>
<div class="pl" style="top:539.3px">78,000.0</div>
<div class="pl" style="top:579.4px">76,000.0</div>
<div class="pl" style="top:619.4px">74,000.0</div>
<div class="pl" style="top:659.5px">72,000.0</div>
<div class="clip2">
<div class="pl" style="left:10px;top:47.5px">1,000.0</div>
<div class="pl" style="left:10px;top:100.1px">0.0</div>
<div class="pl" style="left:10px;top:147.2px">−1,000.0</div>
<div class="pl" style="left:10px;top:198.4px">−2,000.0</div>
<div class="pl" style="left:10px;top:248.4px">−3,000.0</div>
</div>
<div class="tag" style="top:89px;width:87px"><span>100,000.0</span></div>
<div class="tag" style="top:196px;width:79px"><span>94,650.0</span></div>
<div class="tag" style="top:279px;width:79px"><span>90,500.0</span></div>
<div class="tag" style="top:369px;width:79px"><span>86,000.0</span></div>
<div class="tag" style="top:401px;width:79px"><span>84,400.0</span></div>
<div class="tag" style="top:476px;width:79px"><span>80,650.0</span></div>
<div class="tag" style="top:606px;width:79px"><span>74,680.0</span></div>
<div class="ptag" style="top:565px"><span class="pv">76,255.3</span><span class="pt">01:03:55</span></div>
<div class="tl" style="left:57.7px">21</div>
<div class="tl" style="left:152.7px">24</div>
<div class="tl" style="left:247.7px">27</div>
<div class="tl b" style="left:404.7px">2026</div>
<div class="tl" style="left:499.7px">4</div>
<div class="tl" style="left:593.7px">7</div>
<div class="tl" style="left:688.7px">10</div>
<div class="tl" style="left:782.7px">13</div>
<div class="tl" style="left:876.7px">16</div>
<div class="tl" style="left:971.7px">19</div>
<div class="tl" style="left:1065.7px">22</div>
<div class="tl" style="left:1160.7px">25</div>
<div class="tl" style="left:1254.7px">28</div>
<div class="tl" style="left:1475.7px">4</div>
<div class="tl" style="left:1569.7px">7</div>
<div class="tl" style="left:1664.7px">10</div>
<span class="sg" style="left:1399.4px;top:954.9px;font-size:15px;font-weight:700;color:#d8d8d8;transform:scaleX(1.0069)">2</span>
<span class="sg cj" style="left:1408.3px;top:954.9px;width:14.0px;font-size:14.00px;font-weight:700;color:#d8d8d8">月</span>
<svg class="logo" width="30" height="15.4" viewBox="0 0 36 19" preserveAspectRatio="none"><path fill="#e6e6e6" d="M14 19H7V7H0V0h14v19zM28.5 19H20.5L28 0h8l-7.5 19z"/><circle cx="20" cy="3.5" r="3.5" fill="#e6e6e6"/></svg>
<div class="brand">TradingView</div>
</div>
</body></html>
